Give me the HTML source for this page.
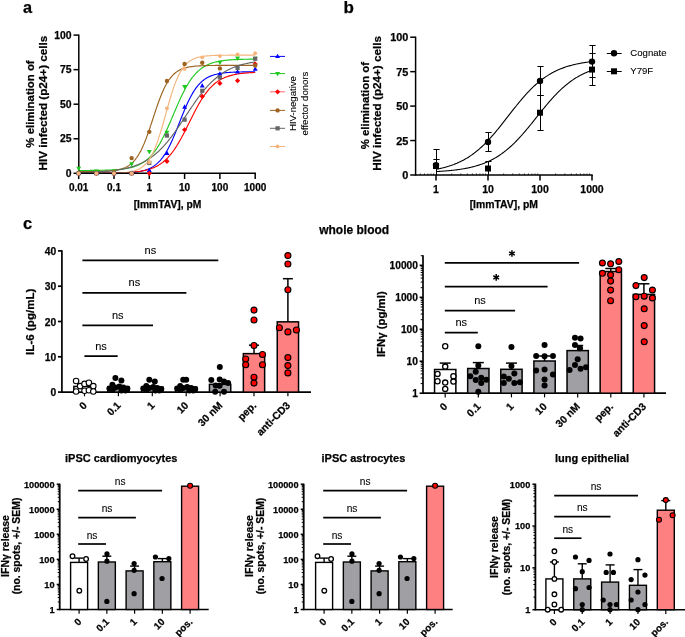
<!DOCTYPE html>
<html><head><meta charset="utf-8"><style>
html,body{margin:0;padding:0;background:#fff;}
svg{display:block;}
text{font-family:"Liberation Sans", sans-serif;}
</style></head><body>
<svg width="685" height="637" viewBox="0 0 685 637">
<rect width="685" height="637" fill="#fff"/>
<g opacity="0.999">
<text x="23.00" y="12.50" font-size="16.3" font-weight="bold" text-anchor="start" fill="#000" stroke="#000" stroke-width="0.25">a</text>
<path d="M78.70,173.30L79.58,173.30L80.47,173.30L81.35,173.30L82.23,173.30L83.11,173.30L84.00,173.30L84.88,173.30L85.76,173.30L86.64,173.30L87.53,173.30L88.41,173.29L89.29,173.29L90.17,173.29L91.06,173.29L91.94,173.29L92.82,173.29L93.70,173.29L94.59,173.28L95.47,173.28L96.35,173.28L97.23,173.28L98.12,173.28L99.00,173.27L99.88,173.27L100.76,173.27L101.65,173.26L102.53,173.26L103.41,173.26L104.29,173.25L105.18,173.25L106.06,173.24L106.94,173.23L107.82,173.23L108.71,173.22L109.59,173.21L110.47,173.20L111.35,173.19L112.24,173.18L113.12,173.17L114.00,173.16L114.88,173.15L115.77,173.13L116.65,173.12L117.53,173.10L118.41,173.08L119.30,173.06L120.18,173.04L121.06,173.01L121.94,172.99L122.83,172.96L123.71,172.92L124.59,172.89L125.47,172.85L126.36,172.81L127.24,172.76L128.12,172.71L129.00,172.66L129.89,172.60L130.77,172.54L131.65,172.46L132.53,172.39L133.42,172.30L134.30,172.21L135.18,172.11L136.06,172.00L136.95,171.89L137.83,171.76L138.71,171.62L139.59,171.46L140.48,171.30L141.36,171.11L142.24,170.92L143.12,170.70L144.01,170.47L144.89,170.22L145.77,169.94L146.65,169.64L147.53,169.31L148.42,168.96L149.30,168.58L150.18,168.17L151.06,167.72L151.95,167.23L152.83,166.71L153.71,166.14L154.59,165.53L155.48,164.87L156.36,164.16L157.24,163.40L158.12,162.58L159.01,161.71L159.89,160.77L160.77,159.77L161.66,158.70L162.54,157.56L163.42,156.35L164.30,155.06L165.19,153.70L166.07,152.27L166.95,150.76L167.83,149.17L168.72,147.51L169.60,145.77L170.48,143.96L171.36,142.09L172.25,140.14L173.13,138.14L174.01,136.09L174.89,133.98L175.78,131.83L176.66,129.65L177.54,127.44L178.42,125.21L179.31,122.97L180.19,120.73L181.07,118.49L181.95,116.28L182.84,114.08L183.72,111.92L184.60,109.79L185.48,107.72L186.37,105.69L187.25,103.73L188.13,101.82L189.01,99.99L189.90,98.22L190.78,96.53L191.66,94.91L192.54,93.37L193.43,91.91L194.31,90.52L195.19,89.20L196.07,87.96L196.96,86.80L197.84,85.70L198.72,84.67L199.60,83.70L200.49,82.80L201.37,81.96L202.25,81.18L203.13,80.45L204.01,79.77L204.90,79.14L205.78,78.56L206.66,78.02L207.55,77.52L208.43,77.05L209.31,76.63L210.19,76.23L211.07,75.87L211.96,75.53L212.84,75.22L213.72,74.94L214.61,74.67L215.49,74.43L216.37,74.21L217.25,74.01L218.13,73.82L219.02,73.65L219.90,73.49L220.78,73.34L221.67,73.21L222.55,73.09L223.43,72.97L224.31,72.87L225.20,72.78L226.08,72.69L226.96,72.61L227.84,72.54L228.73,72.47L229.61,72.41L230.49,72.35L231.37,72.30L232.25,72.25L233.14,72.21L234.02,72.17L234.90,72.13L235.79,72.10L236.67,72.07L237.55,72.04L238.43,72.02L239.31,71.99L240.20,71.97L241.08,71.95L241.96,71.93L242.85,71.92L243.73,71.90L244.61,71.89L245.49,71.88L246.38,71.86L247.26,71.85L248.14,71.84L249.02,71.83L249.90,71.83L250.79,71.82L251.67,71.81L252.55,71.81L253.44,71.80L254.32,71.80L255.20,71.79" stroke="#0000ff" stroke-width="1.15" fill="none"/>
<path d="M78.70,170.50L79.58,170.50L80.47,170.49L81.35,170.49L82.23,170.49L83.11,170.48L84.00,170.48L84.88,170.47L85.76,170.47L86.64,170.46L87.53,170.46L88.41,170.45L89.29,170.45L90.17,170.44L91.06,170.43L91.94,170.42L92.82,170.41L93.70,170.41L94.59,170.40L95.47,170.38L96.35,170.37L97.23,170.36L98.12,170.35L99.00,170.33L99.88,170.32L100.76,170.30L101.65,170.28L102.53,170.26L103.41,170.24L104.29,170.22L105.18,170.19L106.06,170.16L106.94,170.14L107.82,170.11L108.71,170.07L109.59,170.04L110.47,170.00L111.35,169.96L112.24,169.91L113.12,169.86L114.00,169.81L114.88,169.75L115.77,169.69L116.65,169.63L117.53,169.56L118.41,169.48L119.30,169.40L120.18,169.32L121.06,169.22L121.94,169.12L122.83,169.01L123.71,168.90L124.59,168.77L125.47,168.64L126.36,168.49L127.24,168.34L128.12,168.17L129.00,167.99L129.89,167.80L130.77,167.59L131.65,167.37L132.53,167.13L133.42,166.87L134.30,166.60L135.18,166.30L136.06,165.99L136.95,165.65L137.83,165.29L138.71,164.90L139.59,164.49L140.48,164.04L141.36,163.57L142.24,163.07L143.12,162.53L144.01,161.95L144.89,161.34L145.77,160.69L146.65,160.00L147.53,159.26L148.42,158.48L149.30,157.65L150.18,156.77L151.06,155.85L151.95,154.86L152.83,153.83L153.71,152.74L154.59,151.59L155.48,150.38L156.36,149.12L157.24,147.79L158.12,146.41L159.01,144.96L159.89,143.46L160.77,141.90L161.66,140.27L162.54,138.60L163.42,136.86L164.30,135.08L165.19,133.24L166.07,131.36L166.95,129.44L167.83,127.48L168.72,125.49L169.60,123.46L170.48,121.42L171.36,119.35L172.25,117.27L173.13,115.19L174.01,113.10L174.89,111.02L175.78,108.95L176.66,106.90L177.54,104.86L178.42,102.86L179.31,100.88L180.19,98.94L181.07,97.05L181.95,95.19L182.84,93.39L183.72,91.64L184.60,89.94L185.48,88.29L186.37,86.70L187.25,85.18L188.13,83.71L189.01,82.30L189.90,80.95L190.78,79.66L191.66,78.43L192.54,77.26L193.43,76.15L194.31,75.09L195.19,74.09L196.07,73.14L196.96,72.24L197.84,71.39L198.72,70.59L199.60,69.84L200.49,69.13L201.37,68.46L202.25,67.83L203.13,67.24L204.01,66.69L204.90,66.17L205.78,65.69L206.66,65.23L207.55,64.81L208.43,64.41L209.31,64.04L210.19,63.69L211.07,63.36L211.96,63.06L212.84,62.78L213.72,62.52L214.61,62.27L215.49,62.04L216.37,61.83L217.25,61.63L218.13,61.45L219.02,61.27L219.90,61.11L220.78,60.96L221.67,60.83L222.55,60.70L223.43,60.58L224.31,60.46L225.20,60.36L226.08,60.26L226.96,60.17L227.84,60.09L228.73,60.01L229.61,59.94L230.49,59.88L231.37,59.81L232.25,59.76L233.14,59.70L234.02,59.65L234.90,59.61L235.79,59.56L236.67,59.52L237.55,59.49L238.43,59.45L239.31,59.42L240.20,59.39L241.08,59.36L241.96,59.34L242.85,59.31L243.73,59.29L244.61,59.27L245.49,59.25L246.38,59.24L247.26,59.22L248.14,59.20L249.02,59.19L249.90,59.18L250.79,59.16L251.67,59.15L252.55,59.14L253.44,59.13L254.32,59.12L255.20,59.12" stroke="#1ec81e" stroke-width="1.15" fill="none"/>
<path d="M78.70,173.28L79.58,173.28L80.47,173.28L81.35,173.28L82.23,173.28L83.11,173.28L84.00,173.28L84.88,173.27L85.76,173.27L86.64,173.27L87.53,173.27L88.41,173.27L89.29,173.26L90.17,173.26L91.06,173.26L91.94,173.26L92.82,173.25L93.70,173.25L94.59,173.25L95.47,173.24L96.35,173.24L97.23,173.23L98.12,173.23L99.00,173.22L99.88,173.22L100.76,173.21L101.65,173.20L102.53,173.20L103.41,173.19L104.29,173.18L105.18,173.17L106.06,173.16L106.94,173.15L107.82,173.14L108.71,173.13L109.59,173.12L110.47,173.11L111.35,173.09L112.24,173.08L113.12,173.06L114.00,173.05L114.88,173.03L115.77,173.01L116.65,172.99L117.53,172.96L118.41,172.94L119.30,172.91L120.18,172.88L121.06,172.85L121.94,172.82L122.83,172.79L123.71,172.75L124.59,172.71L125.47,172.67L126.36,172.62L127.24,172.57L128.12,172.52L129.00,172.46L129.89,172.40L130.77,172.34L131.65,172.27L132.53,172.20L133.42,172.12L134.30,172.03L135.18,171.94L136.06,171.84L136.95,171.74L137.83,171.63L138.71,171.51L139.59,171.38L140.48,171.24L141.36,171.10L142.24,170.94L143.12,170.77L144.01,170.59L144.89,170.40L145.77,170.20L146.65,169.98L147.53,169.75L148.42,169.50L149.30,169.23L150.18,168.95L151.06,168.65L151.95,168.32L152.83,167.98L153.71,167.62L154.59,167.23L155.48,166.81L156.36,166.37L157.24,165.91L158.12,165.41L159.01,164.88L159.89,164.33L160.77,163.73L161.66,163.11L162.54,162.45L163.42,161.75L164.30,161.01L165.19,160.23L166.07,159.41L166.95,158.54L167.83,157.64L168.72,156.68L169.60,155.69L170.48,154.64L171.36,153.55L172.25,152.41L173.13,151.22L174.01,149.98L174.89,148.70L175.78,147.36L176.66,145.98L177.54,144.56L178.42,143.09L179.31,141.58L180.19,140.03L181.07,138.44L181.95,136.82L182.84,135.17L183.72,133.48L184.60,131.77L185.48,130.04L186.37,128.29L187.25,126.53L188.13,124.75L189.01,122.97L189.90,121.20L190.78,119.42L191.66,117.65L192.54,115.90L193.43,114.16L194.31,112.44L195.19,110.74L196.07,109.07L196.96,107.44L197.84,105.84L198.72,104.27L199.60,102.74L200.49,101.26L201.37,99.82L202.25,98.42L203.13,97.07L204.01,95.77L204.90,94.51L205.78,93.30L206.66,92.14L207.55,91.03L208.43,89.96L209.31,88.95L210.19,87.98L211.07,87.05L211.96,86.17L212.84,85.33L213.72,84.54L214.61,83.78L215.49,83.07L216.37,82.39L217.25,81.75L218.13,81.14L219.02,80.57L219.90,80.03L220.78,79.53L221.67,79.05L222.55,78.60L223.43,78.17L224.31,77.77L225.20,77.40L226.08,77.05L226.96,76.72L227.84,76.41L228.73,76.12L229.61,75.84L230.49,75.59L231.37,75.35L232.25,75.13L233.14,74.92L234.02,74.72L234.90,74.54L235.79,74.36L236.67,74.20L237.55,74.05L238.43,73.91L239.31,73.78L240.20,73.66L241.08,73.54L241.96,73.44L242.85,73.34L243.73,73.24L244.61,73.15L245.49,73.07L246.38,73.00L247.26,72.93L248.14,72.86L249.02,72.80L249.90,72.74L250.79,72.68L251.67,72.63L252.55,72.59L253.44,72.54L254.32,72.50L255.20,72.46" stroke="#ff0000" stroke-width="1.15" fill="none"/>
<path d="M78.70,171.64L79.58,171.64L80.47,171.64L81.35,171.63L82.23,171.63L83.11,171.63L84.00,171.62L84.88,171.62L85.76,171.62L86.64,171.61L87.53,171.61L88.41,171.60L89.29,171.59L90.17,171.59L91.06,171.58L91.94,171.57L92.82,171.56L93.70,171.55L94.59,171.54L95.47,171.52L96.35,171.51L97.23,171.49L98.12,171.47L99.00,171.45L99.88,171.43L100.76,171.40L101.65,171.38L102.53,171.35L103.41,171.31L104.29,171.28L105.18,171.24L106.06,171.19L106.94,171.14L107.82,171.08L108.71,171.02L109.59,170.95L110.47,170.88L111.35,170.80L112.24,170.70L113.12,170.60L114.00,170.49L114.88,170.37L115.77,170.23L116.65,170.08L117.53,169.91L118.41,169.73L119.30,169.53L120.18,169.30L121.06,169.06L121.94,168.79L122.83,168.49L123.71,168.16L124.59,167.80L125.47,167.40L126.36,166.96L127.24,166.48L128.12,165.96L129.00,165.38L129.89,164.75L130.77,164.07L131.65,163.32L132.53,162.50L133.42,161.61L134.30,160.65L135.18,159.60L136.06,158.47L136.95,157.25L137.83,155.93L138.71,154.52L139.59,153.00L140.48,151.39L141.36,149.66L142.24,147.83L143.12,145.90L144.01,143.86L144.89,141.72L145.77,139.49L146.65,137.16L147.53,134.75L148.42,132.26L149.30,129.70L150.18,127.09L151.06,124.44L151.95,121.75L152.83,119.05L153.71,116.35L154.59,113.66L155.48,110.99L156.36,108.36L157.24,105.78L158.12,103.27L159.01,100.82L159.89,98.46L160.77,96.19L161.66,94.01L162.54,91.93L163.42,89.95L164.30,88.08L165.19,86.32L166.07,84.66L166.95,83.10L167.83,81.65L168.72,80.29L169.60,79.04L170.48,77.87L171.36,76.79L172.25,75.79L173.13,74.87L174.01,74.03L174.89,73.25L175.78,72.54L176.66,71.89L177.54,71.29L178.42,70.75L179.31,70.25L180.19,69.80L181.07,69.39L181.95,69.01L182.84,68.67L183.72,68.36L184.60,68.08L185.48,67.82L186.37,67.59L187.25,67.38L188.13,67.18L189.01,67.01L189.90,66.85L190.78,66.71L191.66,66.58L192.54,66.47L193.43,66.36L194.31,66.27L195.19,66.18L196.07,66.10L196.96,66.03L197.84,65.97L198.72,65.91L199.60,65.86L200.49,65.81L201.37,65.77L202.25,65.73L203.13,65.69L204.01,65.66L204.90,65.63L205.78,65.61L206.66,65.58L207.55,65.56L208.43,65.54L209.31,65.53L210.19,65.51L211.07,65.50L211.96,65.48L212.84,65.47L213.72,65.46L214.61,65.45L215.49,65.44L216.37,65.44L217.25,65.43L218.13,65.42L219.02,65.42L219.90,65.41L220.78,65.41L221.67,65.40L222.55,65.40L223.43,65.40L224.31,65.39L225.20,65.39L226.08,65.39L226.96,65.39L227.84,65.38L228.73,65.38L229.61,65.38L230.49,65.38L231.37,65.38L232.25,65.38L233.14,65.38L234.02,65.38L234.90,65.37L235.79,65.37L236.67,65.37L237.55,65.37L238.43,65.37L239.31,65.37L240.20,65.37L241.08,65.37L241.96,65.37L242.85,65.37L243.73,65.37L244.61,65.37L245.49,65.37L246.38,65.37L247.26,65.37L248.14,65.37L249.02,65.37L249.90,65.37L250.79,65.37L251.67,65.37L252.55,65.37L253.44,65.37L254.32,65.37L255.20,65.37" stroke="#9c6420" stroke-width="1.15" fill="none"/>
<path d="M78.70,172.51L79.58,172.50L80.47,172.48L81.35,172.46L82.23,172.44L83.11,172.42L84.00,172.39L84.88,172.37L85.76,172.35L86.64,172.32L87.53,172.29L88.41,172.26L89.29,172.23L90.17,172.20L91.06,172.17L91.94,172.13L92.82,172.10L93.70,172.06L94.59,172.02L95.47,171.98L96.35,171.94L97.23,171.89L98.12,171.84L99.00,171.79L99.88,171.74L100.76,171.69L101.65,171.63L102.53,171.57L103.41,171.51L104.29,171.44L105.18,171.37L106.06,171.30L106.94,171.22L107.82,171.15L108.71,171.06L109.59,170.98L110.47,170.89L111.35,170.79L112.24,170.69L113.12,170.59L114.00,170.48L114.88,170.36L115.77,170.25L116.65,170.12L117.53,169.99L118.41,169.85L119.30,169.71L120.18,169.56L121.06,169.41L121.94,169.25L122.83,169.08L123.71,168.90L124.59,168.71L125.47,168.52L126.36,168.32L127.24,168.10L128.12,167.88L129.00,167.65L129.89,167.41L130.77,167.16L131.65,166.90L132.53,166.62L133.42,166.34L134.30,166.04L135.18,165.73L136.06,165.41L136.95,165.07L137.83,164.72L138.71,164.36L139.59,163.98L140.48,163.58L141.36,163.17L142.24,162.74L143.12,162.30L144.01,161.84L144.89,161.36L145.77,160.86L146.65,160.34L147.53,159.80L148.42,159.25L149.30,158.67L150.18,158.07L151.06,157.45L151.95,156.81L152.83,156.15L153.71,155.47L154.59,154.76L155.48,154.03L156.36,153.28L157.24,152.50L158.12,151.70L159.01,150.87L159.89,150.02L160.77,149.15L161.66,148.25L162.54,147.32L163.42,146.38L164.30,145.41L165.19,144.41L166.07,143.39L166.95,142.35L167.83,141.28L168.72,140.20L169.60,139.09L170.48,137.95L171.36,136.80L172.25,135.63L173.13,134.44L174.01,133.23L174.89,132.00L175.78,130.76L176.66,129.50L177.54,128.23L178.42,126.94L179.31,125.65L180.19,124.34L181.07,123.02L181.95,121.70L182.84,120.37L183.72,119.03L184.60,117.69L185.48,116.35L186.37,115.01L187.25,113.67L188.13,112.34L189.01,111.00L189.90,109.68L190.78,108.36L191.66,107.05L192.54,105.75L193.43,104.45L194.31,103.18L195.19,101.91L196.07,100.66L196.96,99.43L197.84,98.21L198.72,97.01L199.60,95.83L200.49,94.67L201.37,93.53L202.25,92.42L203.13,91.32L204.01,90.24L204.90,89.19L205.78,88.16L206.66,87.16L207.55,86.18L208.43,85.22L209.31,84.29L210.19,83.38L211.07,82.50L211.96,81.64L212.84,80.80L213.72,79.99L214.61,79.20L215.49,78.44L216.37,77.70L217.25,76.98L218.13,76.29L219.02,75.62L219.90,74.97L220.78,74.34L221.67,73.74L222.55,73.15L223.43,72.59L224.31,72.04L225.20,71.52L226.08,71.01L226.96,70.52L227.84,70.06L228.73,69.60L229.61,69.17L230.49,68.75L231.37,68.35L232.25,67.96L233.14,67.59L234.02,67.24L234.90,66.89L235.79,66.57L236.67,66.25L237.55,65.95L238.43,65.66L239.31,65.38L240.20,65.11L241.08,64.86L241.96,64.61L242.85,64.38L243.73,64.15L244.61,63.94L245.49,63.73L246.38,63.54L247.26,63.35L248.14,63.17L249.02,62.99L249.90,62.83L250.79,62.67L251.67,62.52L252.55,62.37L253.44,62.23L254.32,62.10L255.20,61.97" stroke="#666666" stroke-width="1.15" fill="none"/>
<path d="M78.70,173.30L79.58,173.30L80.47,173.30L81.35,173.30L82.23,173.30L83.11,173.30L84.00,173.29L84.88,173.29L85.76,173.29L86.64,173.29L87.53,173.29L88.41,173.29L89.29,173.29L90.17,173.29L91.06,173.29L91.94,173.29L92.82,173.28L93.70,173.28L94.59,173.28L95.47,173.28L96.35,173.28L97.23,173.27L98.12,173.27L99.00,173.27L99.88,173.26L100.76,173.26L101.65,173.25L102.53,173.25L103.41,173.24L104.29,173.24L105.18,173.23L106.06,173.22L106.94,173.21L107.82,173.20L108.71,173.19L109.59,173.18L110.47,173.16L111.35,173.15L112.24,173.13L113.12,173.11L114.00,173.09L114.88,173.06L115.77,173.04L116.65,173.01L117.53,172.97L118.41,172.94L119.30,172.90L120.18,172.85L121.06,172.80L121.94,172.74L122.83,172.68L123.71,172.61L124.59,172.53L125.47,172.45L126.36,172.35L127.24,172.24L128.12,172.12L129.00,171.99L129.89,171.84L130.77,171.68L131.65,171.50L132.53,171.29L133.42,171.07L134.30,170.82L135.18,170.54L136.06,170.24L136.95,169.90L137.83,169.52L138.71,169.11L139.59,168.65L140.48,168.14L141.36,167.58L142.24,166.97L143.12,166.29L144.01,165.54L144.89,164.72L145.77,163.82L146.65,162.84L147.53,161.76L148.42,160.59L149.30,159.31L150.18,157.92L151.06,156.42L151.95,154.80L152.83,153.05L153.71,151.17L154.59,149.17L155.48,147.03L156.36,144.76L157.24,142.35L158.12,139.83L159.01,137.18L159.89,134.42L160.77,131.55L161.66,128.59L162.54,125.56L163.42,122.46L164.30,119.31L165.19,116.13L166.07,112.94L166.95,109.76L167.83,106.61L168.72,103.50L169.60,100.45L170.48,97.47L171.36,94.59L172.25,91.80L173.13,89.13L174.01,86.58L174.89,84.15L175.78,81.86L176.66,79.69L177.54,77.66L178.42,75.76L179.31,73.98L180.19,72.33L181.07,70.81L181.95,69.40L182.84,68.10L183.72,66.91L184.60,65.81L185.48,64.81L186.37,63.89L187.25,63.06L188.13,62.30L189.01,61.60L189.90,60.97L190.78,60.40L191.66,59.89L192.54,59.42L193.43,59.00L194.31,58.61L195.19,58.27L196.07,57.95L196.96,57.67L197.84,57.42L198.72,57.19L199.60,56.98L200.49,56.80L201.37,56.63L202.25,56.48L203.13,56.34L204.01,56.22L204.90,56.11L205.78,56.01L206.66,55.92L207.55,55.84L208.43,55.77L209.31,55.71L210.19,55.65L211.07,55.60L211.96,55.55L212.84,55.51L213.72,55.47L214.61,55.44L215.49,55.41L216.37,55.38L217.25,55.35L218.13,55.33L219.02,55.31L219.90,55.30L220.78,55.28L221.67,55.26L222.55,55.25L223.43,55.24L224.31,55.23L225.20,55.22L226.08,55.21L226.96,55.20L227.84,55.20L228.73,55.19L229.61,55.19L230.49,55.18L231.37,55.18L232.25,55.17L233.14,55.17L234.02,55.17L234.90,55.16L235.79,55.16L236.67,55.16L237.55,55.16L238.43,55.16L239.31,55.15L240.20,55.15L241.08,55.15L241.96,55.15L242.85,55.15L243.73,55.15L244.61,55.15L245.49,55.15L246.38,55.15L247.26,55.14L248.14,55.14L249.02,55.14L249.90,55.14L250.79,55.14L251.67,55.14L252.55,55.14L253.44,55.14L254.32,55.14L255.20,55.14" stroke="#f5b47c" stroke-width="1.15" fill="none"/>
<line x1="78.80" y1="34.50" x2="78.80" y2="174.05" stroke="#000" stroke-width="1.5"/>
<line x1="73.50" y1="173.30" x2="78.80" y2="173.30" stroke="#000" stroke-width="1.5"/>
<text x="71.50" y="177.00" font-size="10.4" font-weight="bold" text-anchor="end" fill="#000" stroke="#000" stroke-width="0.25">0</text>
<line x1="73.50" y1="138.75" x2="78.80" y2="138.75" stroke="#000" stroke-width="1.5"/>
<text x="71.50" y="142.45" font-size="10.4" font-weight="bold" text-anchor="end" fill="#000" stroke="#000" stroke-width="0.25">25</text>
<line x1="73.50" y1="104.20" x2="78.80" y2="104.20" stroke="#000" stroke-width="1.5"/>
<text x="71.50" y="107.90" font-size="10.4" font-weight="bold" text-anchor="end" fill="#000" stroke="#000" stroke-width="0.25">50</text>
<line x1="73.50" y1="69.65" x2="78.80" y2="69.65" stroke="#000" stroke-width="1.5"/>
<text x="71.50" y="73.35" font-size="10.4" font-weight="bold" text-anchor="end" fill="#000" stroke="#000" stroke-width="0.25">75</text>
<line x1="73.50" y1="35.10" x2="78.80" y2="35.10" stroke="#000" stroke-width="1.5"/>
<text x="71.50" y="38.80" font-size="10.4" font-weight="bold" text-anchor="end" fill="#000" stroke="#000" stroke-width="0.25">100</text>
<line x1="78.80" y1="173.30" x2="255.95" y2="173.30" stroke="#000" stroke-width="1.5"/>
<line x1="78.70" y1="173.30" x2="78.70" y2="179.00" stroke="#000" stroke-width="1.5"/>
<text x="78.70" y="191.20" font-size="10" font-weight="bold" text-anchor="middle" fill="#000" stroke="#000" stroke-width="0.25">0.01</text>
<line x1="114.00" y1="173.30" x2="114.00" y2="179.00" stroke="#000" stroke-width="1.5"/>
<text x="114.00" y="191.20" font-size="10" font-weight="bold" text-anchor="middle" fill="#000" stroke="#000" stroke-width="0.25">0.1</text>
<line x1="149.30" y1="173.30" x2="149.30" y2="179.00" stroke="#000" stroke-width="1.5"/>
<text x="149.30" y="191.20" font-size="10" font-weight="bold" text-anchor="middle" fill="#000" stroke="#000" stroke-width="0.25">1</text>
<line x1="184.60" y1="173.30" x2="184.60" y2="179.00" stroke="#000" stroke-width="1.5"/>
<text x="184.60" y="191.20" font-size="10" font-weight="bold" text-anchor="middle" fill="#000" stroke="#000" stroke-width="0.25">10</text>
<line x1="219.90" y1="173.30" x2="219.90" y2="179.00" stroke="#000" stroke-width="1.5"/>
<text x="219.90" y="191.20" font-size="10" font-weight="bold" text-anchor="middle" fill="#000" stroke="#000" stroke-width="0.25">100</text>
<line x1="255.20" y1="173.30" x2="255.20" y2="179.00" stroke="#000" stroke-width="1.5"/>
<text x="255.20" y="191.20" font-size="10" font-weight="bold" text-anchor="middle" fill="#000" stroke="#000" stroke-width="0.25">1000</text>
<text x="167.50" y="208.00" font-size="10.3" font-weight="bold" text-anchor="middle" fill="#000" stroke="#000" stroke-width="0.25">[ImmTAV], pM</text>
<text x="33.90" y="104.00" font-size="11.4" font-weight="bold" text-anchor="middle" fill="#000" stroke="#000" stroke-width="0.25" transform="rotate(-90 33.9 104.0)">% elimination of</text>
<text x="46.90" y="103.10" font-size="11.7" font-weight="bold" text-anchor="middle" fill="#000" stroke="#000" stroke-width="0.25" transform="rotate(-90 46.9 103.1)">HIV infected (p24+) cells</text>
<polygon points="78.70,170.57 81.15,174.97 76.25,174.97" fill="#0000ff" stroke="none" stroke-width="0"/>
<polygon points="96.35,170.57 98.80,174.97 93.90,174.97" fill="#0000ff" stroke="none" stroke-width="0"/>
<polygon points="114.00,170.57 116.45,174.97 111.55,174.97" fill="#0000ff" stroke="none" stroke-width="0"/>
<polygon points="131.65,170.57 134.10,174.97 129.20,174.97" fill="#0000ff" stroke="none" stroke-width="0"/>
<polygon points="149.30,167.53 151.75,171.93 146.85,171.93" fill="#0000ff" stroke="none" stroke-width="0"/>
<polygon points="166.95,150.53 169.40,154.93 164.50,154.93" fill="#0000ff" stroke="none" stroke-width="0"/>
<polygon points="184.60,104.24 187.05,108.64 182.15,108.64" fill="#0000ff" stroke="none" stroke-width="0"/>
<polygon points="202.25,83.09 204.70,87.49 199.80,87.49" fill="#0000ff" stroke="none" stroke-width="0"/>
<polygon points="219.90,71.21 222.35,75.61 217.45,75.61" fill="#0000ff" stroke="none" stroke-width="0"/>
<polygon points="237.55,69.13 240.00,73.53 235.10,73.53" fill="#0000ff" stroke="none" stroke-width="0"/>
<polygon points="255.20,66.23 257.65,70.63 252.75,70.63" fill="#0000ff" stroke="none" stroke-width="0"/>
<polygon points="78.70,171.19 81.15,166.79 76.25,166.79" fill="#1ec81e" stroke="none" stroke-width="0"/>
<polygon points="96.35,173.96 98.80,169.56 93.90,169.56" fill="#1ec81e" stroke="none" stroke-width="0"/>
<polygon points="114.00,173.96 116.45,169.56 111.55,169.56" fill="#1ec81e" stroke="none" stroke-width="0"/>
<polygon points="131.65,166.63 134.10,162.23 129.20,162.23" fill="#1ec81e" stroke="none" stroke-width="0"/>
<polygon points="149.30,154.47 151.75,150.07 146.85,150.07" fill="#1ec81e" stroke="none" stroke-width="0"/>
<polygon points="166.95,135.12 169.40,130.72 164.50,130.72" fill="#1ec81e" stroke="none" stroke-width="0"/>
<polygon points="184.60,89.51 187.05,85.11 182.15,85.11" fill="#1ec81e" stroke="none" stroke-width="0"/>
<polygon points="219.90,65.05 222.35,60.65 217.45,60.65" fill="#1ec81e" stroke="none" stroke-width="0"/>
<polygon points="237.55,60.91 240.00,56.51 235.10,56.51" fill="#1ec81e" stroke="none" stroke-width="0"/>
<polygon points="255.20,61.18 257.65,56.78 252.75,56.78" fill="#1ec81e" stroke="none" stroke-width="0"/>
<polygon points="78.70,170.70 81.30,173.30 78.70,175.90 76.10,173.30" fill="#ff0000" stroke="none" stroke-width="0"/>
<polygon points="96.35,170.70 98.95,173.30 96.35,175.90 93.75,173.30" fill="#ff0000" stroke="none" stroke-width="0"/>
<polygon points="114.00,170.70 116.60,173.30 114.00,175.90 111.40,173.30" fill="#ff0000" stroke="none" stroke-width="0"/>
<polygon points="131.65,170.70 134.25,173.30 131.65,175.90 129.05,173.30" fill="#ff0000" stroke="none" stroke-width="0"/>
<polygon points="149.30,170.70 151.90,173.30 149.30,175.90 146.70,173.30" fill="#ff0000" stroke="none" stroke-width="0"/>
<polygon points="166.95,158.68 169.55,161.28 166.95,163.88 164.35,161.28" fill="#ff0000" stroke="none" stroke-width="0"/>
<polygon points="184.60,127.17 187.20,129.77 184.60,132.37 182.00,129.77" fill="#ff0000" stroke="none" stroke-width="0"/>
<polygon points="202.25,93.86 204.85,96.46 202.25,99.06 199.65,96.46" fill="#ff0000" stroke="none" stroke-width="0"/>
<polygon points="219.90,80.73 222.50,83.33 219.90,85.93 217.30,83.33" fill="#ff0000" stroke="none" stroke-width="0"/>
<polygon points="237.55,78.11 240.15,80.71 237.55,83.31 234.95,80.71" fill="#ff0000" stroke="none" stroke-width="0"/>
<polygon points="255.20,61.38 257.80,63.98 255.20,66.58 252.60,63.98" fill="#ff0000" stroke="none" stroke-width="0"/>
<circle cx="78.70" cy="172.61" r="2.20" fill="#9c6420" stroke="none" stroke-width="1.0"/>
<circle cx="96.35" cy="172.61" r="2.20" fill="#9c6420" stroke="none" stroke-width="1.0"/>
<circle cx="114.00" cy="171.92" r="2.20" fill="#9c6420" stroke="none" stroke-width="1.0"/>
<circle cx="131.65" cy="158.10" r="2.20" fill="#9c6420" stroke="none" stroke-width="1.0"/>
<circle cx="149.30" cy="131.84" r="2.20" fill="#9c6420" stroke="none" stroke-width="1.0"/>
<circle cx="166.95" cy="80.98" r="2.20" fill="#9c6420" stroke="none" stroke-width="1.0"/>
<circle cx="184.60" cy="63.98" r="2.20" fill="#9c6420" stroke="none" stroke-width="1.0"/>
<circle cx="202.25" cy="62.74" r="2.20" fill="#9c6420" stroke="none" stroke-width="1.0"/>
<circle cx="219.90" cy="68.41" r="2.20" fill="#9c6420" stroke="none" stroke-width="1.0"/>
<circle cx="255.20" cy="65.50" r="2.20" fill="#9c6420" stroke="none" stroke-width="1.0"/>
<rect x="76.60" y="171.20" width="4.20" height="4.20" fill="#666666"/>
<rect x="94.25" y="171.20" width="4.20" height="4.20" fill="#666666"/>
<rect x="111.90" y="171.20" width="4.20" height="4.20" fill="#666666"/>
<rect x="129.55" y="171.20" width="4.20" height="4.20" fill="#666666"/>
<rect x="147.20" y="160.84" width="4.20" height="4.20" fill="#666666"/>
<rect x="164.85" y="133.47" width="4.20" height="4.20" fill="#666666"/>
<rect x="182.50" y="117.58" width="4.20" height="4.20" fill="#666666"/>
<rect x="200.15" y="88.69" width="4.20" height="4.20" fill="#666666"/>
<rect x="217.80" y="75.43" width="4.20" height="4.20" fill="#666666"/>
<rect x="235.45" y="65.89" width="4.20" height="4.20" fill="#666666"/>
<rect x="253.10" y="56.63" width="4.20" height="4.20" fill="#666666"/>
<circle cx="78.70" cy="173.30" r="1.90" fill="#f5b47c" stroke="none" stroke-width="1.0"/>
<circle cx="96.35" cy="173.30" r="1.90" fill="#f5b47c" stroke="none" stroke-width="1.0"/>
<circle cx="114.00" cy="173.30" r="1.90" fill="#f5b47c" stroke="none" stroke-width="1.0"/>
<circle cx="131.65" cy="173.30" r="1.90" fill="#f5b47c" stroke="none" stroke-width="1.0"/>
<circle cx="149.30" cy="162.24" r="1.90" fill="#f5b47c" stroke="none" stroke-width="1.0"/>
<circle cx="166.95" cy="108.35" r="1.90" fill="#f5b47c" stroke="none" stroke-width="1.0"/>
<circle cx="184.60" cy="68.96" r="1.90" fill="#f5b47c" stroke="none" stroke-width="1.0"/>
<circle cx="202.25" cy="57.35" r="1.90" fill="#f5b47c" stroke="none" stroke-width="1.0"/>
<circle cx="219.90" cy="56.11" r="1.90" fill="#f5b47c" stroke="none" stroke-width="1.0"/>
<circle cx="237.55" cy="54.45" r="1.90" fill="#f5b47c" stroke="none" stroke-width="1.0"/>
<circle cx="255.20" cy="53.20" r="1.90" fill="#f5b47c" stroke="none" stroke-width="1.0"/>
<line x1="270.00" y1="56.40" x2="285.00" y2="56.40" stroke="#0000ff" stroke-width="1.0"/>
<polygon points="277.60,53.67 280.05,58.07 275.15,58.07" fill="#0000ff" stroke="none" stroke-width="0"/>
<line x1="270.00" y1="73.60" x2="285.00" y2="73.60" stroke="#1ec81e" stroke-width="1.0"/>
<polygon points="277.60,76.33 280.05,71.93 275.15,71.93" fill="#1ec81e" stroke="none" stroke-width="0"/>
<line x1="270.00" y1="91.80" x2="285.00" y2="91.80" stroke="#ff6a6a" stroke-width="1.0"/>
<polygon points="277.60,89.20 280.20,91.80 277.60,94.40 275.00,91.80" fill="#ff0000" stroke="none" stroke-width="0"/>
<line x1="270.00" y1="110.40" x2="285.00" y2="110.40" stroke="#9c6420" stroke-width="1.0"/>
<circle cx="277.60" cy="110.40" r="2.20" fill="#9c6420" stroke="none" stroke-width="1.0"/>
<line x1="270.00" y1="128.30" x2="285.00" y2="128.30" stroke="#666666" stroke-width="1.0"/>
<rect x="275.50" y="126.20" width="4.20" height="4.20" fill="#666666"/>
<line x1="270.00" y1="146.50" x2="285.00" y2="146.50" stroke="#f5b47c" stroke-width="1.0"/>
<circle cx="277.60" cy="146.50" r="1.90" fill="#f5b47c" stroke="none" stroke-width="1.0"/>
<text x="295.80" y="103.50" font-size="9.6" font-weight="normal" text-anchor="middle" fill="#000" stroke="#000" stroke-width="0.1" transform="rotate(-90 295.8 103.5)">HIV-negative</text>
<text x="308.20" y="103.50" font-size="9.6" font-weight="normal" text-anchor="middle" fill="#000" stroke="#000" stroke-width="0.1" transform="rotate(-90 308.2 103.5)">effector donors</text>
<text x="343.60" y="12.50" font-size="17" font-weight="bold" text-anchor="start" fill="#000" stroke="#000" stroke-width="0.25">b</text>
<line x1="415.60" y1="36.60" x2="415.60" y2="175.75" stroke="#000" stroke-width="1.5"/>
<line x1="410.20" y1="175.00" x2="415.60" y2="175.00" stroke="#000" stroke-width="1.5"/>
<text x="408.40" y="179.20" font-size="10.9" font-weight="bold" text-anchor="end" fill="#000" stroke="#000" stroke-width="0.25">0</text>
<line x1="410.20" y1="140.55" x2="415.60" y2="140.55" stroke="#000" stroke-width="1.5"/>
<text x="408.40" y="144.75" font-size="10.9" font-weight="bold" text-anchor="end" fill="#000" stroke="#000" stroke-width="0.25">25</text>
<line x1="410.20" y1="106.10" x2="415.60" y2="106.10" stroke="#000" stroke-width="1.5"/>
<text x="408.40" y="110.30" font-size="10.9" font-weight="bold" text-anchor="end" fill="#000" stroke="#000" stroke-width="0.25">50</text>
<line x1="410.20" y1="71.65" x2="415.60" y2="71.65" stroke="#000" stroke-width="1.5"/>
<text x="408.40" y="75.85" font-size="10.9" font-weight="bold" text-anchor="end" fill="#000" stroke="#000" stroke-width="0.25">75</text>
<line x1="410.20" y1="37.20" x2="415.60" y2="37.20" stroke="#000" stroke-width="1.5"/>
<text x="408.40" y="41.40" font-size="10.9" font-weight="bold" text-anchor="end" fill="#000" stroke="#000" stroke-width="0.25">100</text>
<line x1="415.60" y1="175.00" x2="592.75" y2="175.00" stroke="#000" stroke-width="1.5"/>
<line x1="436.00" y1="175.00" x2="436.00" y2="180.40" stroke="#000" stroke-width="1.5"/>
<text x="436.00" y="193.30" font-size="10.5" font-weight="bold" text-anchor="middle" fill="#000" stroke="#000" stroke-width="0.25">1</text>
<line x1="488.00" y1="175.00" x2="488.00" y2="180.40" stroke="#000" stroke-width="1.5"/>
<text x="488.00" y="193.30" font-size="10.5" font-weight="bold" text-anchor="middle" fill="#000" stroke="#000" stroke-width="0.25">10</text>
<line x1="540.00" y1="175.00" x2="540.00" y2="180.40" stroke="#000" stroke-width="1.5"/>
<text x="540.00" y="193.30" font-size="10.5" font-weight="bold" text-anchor="middle" fill="#000" stroke="#000" stroke-width="0.25">100</text>
<line x1="592.00" y1="175.00" x2="592.00" y2="180.40" stroke="#000" stroke-width="1.5"/>
<text x="592.00" y="193.30" font-size="10.5" font-weight="bold" text-anchor="middle" fill="#000" stroke="#000" stroke-width="0.25">1000</text>
<line x1="420.35" y1="175.00" x2="420.35" y2="173.40" stroke="#000" stroke-width="0.7"/>
<line x1="424.46" y1="175.00" x2="424.46" y2="173.40" stroke="#000" stroke-width="0.7"/>
<line x1="427.95" y1="175.00" x2="427.95" y2="173.40" stroke="#000" stroke-width="0.7"/>
<line x1="430.96" y1="175.00" x2="430.96" y2="173.40" stroke="#000" stroke-width="0.7"/>
<line x1="433.62" y1="175.00" x2="433.62" y2="173.40" stroke="#000" stroke-width="0.7"/>
<line x1="451.65" y1="175.00" x2="451.65" y2="173.40" stroke="#000" stroke-width="0.7"/>
<line x1="460.81" y1="175.00" x2="460.81" y2="173.40" stroke="#000" stroke-width="0.7"/>
<line x1="467.31" y1="175.00" x2="467.31" y2="173.40" stroke="#000" stroke-width="0.7"/>
<line x1="472.35" y1="175.00" x2="472.35" y2="173.40" stroke="#000" stroke-width="0.7"/>
<line x1="476.46" y1="175.00" x2="476.46" y2="173.40" stroke="#000" stroke-width="0.7"/>
<line x1="479.95" y1="175.00" x2="479.95" y2="173.40" stroke="#000" stroke-width="0.7"/>
<line x1="482.96" y1="175.00" x2="482.96" y2="173.40" stroke="#000" stroke-width="0.7"/>
<line x1="485.62" y1="175.00" x2="485.62" y2="173.40" stroke="#000" stroke-width="0.7"/>
<line x1="503.65" y1="175.00" x2="503.65" y2="173.40" stroke="#000" stroke-width="0.7"/>
<line x1="512.81" y1="175.00" x2="512.81" y2="173.40" stroke="#000" stroke-width="0.7"/>
<line x1="519.31" y1="175.00" x2="519.31" y2="173.40" stroke="#000" stroke-width="0.7"/>
<line x1="524.35" y1="175.00" x2="524.35" y2="173.40" stroke="#000" stroke-width="0.7"/>
<line x1="528.46" y1="175.00" x2="528.46" y2="173.40" stroke="#000" stroke-width="0.7"/>
<line x1="531.95" y1="175.00" x2="531.95" y2="173.40" stroke="#000" stroke-width="0.7"/>
<line x1="534.96" y1="175.00" x2="534.96" y2="173.40" stroke="#000" stroke-width="0.7"/>
<line x1="537.62" y1="175.00" x2="537.62" y2="173.40" stroke="#000" stroke-width="0.7"/>
<line x1="555.65" y1="175.00" x2="555.65" y2="173.40" stroke="#000" stroke-width="0.7"/>
<line x1="564.81" y1="175.00" x2="564.81" y2="173.40" stroke="#000" stroke-width="0.7"/>
<line x1="571.31" y1="175.00" x2="571.31" y2="173.40" stroke="#000" stroke-width="0.7"/>
<line x1="576.35" y1="175.00" x2="576.35" y2="173.40" stroke="#000" stroke-width="0.7"/>
<line x1="580.46" y1="175.00" x2="580.46" y2="173.40" stroke="#000" stroke-width="0.7"/>
<line x1="583.95" y1="175.00" x2="583.95" y2="173.40" stroke="#000" stroke-width="0.7"/>
<line x1="586.96" y1="175.00" x2="586.96" y2="173.40" stroke="#000" stroke-width="0.7"/>
<line x1="589.62" y1="175.00" x2="589.62" y2="173.40" stroke="#000" stroke-width="0.7"/>
<text x="503.80" y="208.30" font-size="10.4" font-weight="bold" text-anchor="middle" fill="#000" stroke="#000" stroke-width="0.25">[ImmTAV], pM</text>
<text x="369.10" y="105.60" font-size="11.4" font-weight="bold" text-anchor="middle" fill="#000" stroke="#000" stroke-width="0.25" transform="rotate(-90 369.1 105.6)">% elimination of</text>
<text x="381.50" y="103.40" font-size="11.7" font-weight="bold" text-anchor="middle" fill="#000" stroke="#000" stroke-width="0.25" transform="rotate(-90 381.5 103.4)">HIV infected (p24+) cells</text>
<path d="M436.00,169.36L436.78,169.21L437.56,169.06L438.34,168.90L439.12,168.73L439.90,168.56L440.68,168.39L441.46,168.21L442.24,168.03L443.02,167.83L443.80,167.64L444.58,167.43L445.36,167.22L446.14,167.00L446.92,166.78L447.70,166.55L448.48,166.31L449.26,166.07L450.04,165.81L450.82,165.55L451.60,165.28L452.38,165.01L453.16,164.72L453.94,164.43L454.72,164.12L455.50,163.81L456.28,163.49L457.06,163.16L457.84,162.82L458.62,162.47L459.40,162.11L460.18,161.74L460.96,161.36L461.74,160.97L462.52,160.57L463.30,160.15L464.08,159.73L464.86,159.29L465.64,158.85L466.42,158.39L467.20,157.92L467.98,157.43L468.76,156.94L469.54,156.43L470.32,155.91L471.10,155.38L471.88,154.83L472.66,154.27L473.44,153.70L474.22,153.11L475.00,152.51L475.78,151.90L476.56,151.28L477.34,150.64L478.12,149.98L478.90,149.32L479.68,148.64L480.46,147.94L481.24,147.24L482.02,146.52L482.80,145.78L483.58,145.03L484.36,144.27L485.14,143.50L485.92,142.71L486.70,141.91L487.48,141.10L488.26,140.28L489.04,139.44L489.82,138.59L490.60,137.73L491.38,136.86L492.16,135.98L492.94,135.08L493.72,134.18L494.50,133.27L495.28,132.35L496.06,131.41L496.84,130.47L497.62,129.52L498.40,128.57L499.18,127.60L499.96,126.63L500.74,125.66L501.52,124.67L502.30,123.69L503.08,122.70L503.86,121.70L504.64,120.70L505.42,119.70L506.20,118.70L506.98,117.69L507.76,116.69L508.54,115.68L509.32,114.68L510.10,113.67L510.88,112.67L511.66,111.67L512.44,110.67L513.22,109.68L514.00,108.69L514.78,107.70L515.56,106.72L516.34,105.75L517.12,104.78L517.90,103.82L518.68,102.86L519.46,101.92L520.24,100.98L521.02,100.05L521.80,99.13L522.58,98.22L523.36,97.32L524.14,96.43L524.92,95.55L525.70,94.68L526.48,93.83L527.26,92.98L528.04,92.15L528.82,91.33L529.60,90.52L530.38,89.73L531.16,88.95L531.94,88.18L532.72,87.42L533.50,86.68L534.28,85.95L535.06,85.23L535.84,84.53L536.62,83.84L537.40,83.16L538.18,82.50L538.96,81.85L539.74,81.22L540.52,80.60L541.30,79.99L542.08,79.40L542.86,78.81L543.64,78.25L544.42,77.69L545.20,77.15L545.98,76.62L546.76,76.10L547.54,75.60L548.32,75.11L549.10,74.63L549.88,74.16L550.66,73.71L551.44,73.26L552.22,72.83L553.00,72.41L553.78,72.00L554.56,71.60L555.34,71.22L556.12,70.84L556.90,70.47L557.68,70.12L558.46,69.77L559.24,69.43L560.02,69.11L560.80,68.79L561.58,68.48L562.36,68.18L563.14,67.89L563.92,67.61L564.70,67.33L565.48,67.07L566.26,66.81L567.04,66.56L567.82,66.31L568.60,66.08L569.38,65.85L570.16,65.63L570.94,65.41L571.72,65.20L572.50,65.00L573.28,64.81L574.06,64.62L574.84,64.43L575.62,64.26L576.40,64.08L577.18,63.92L577.96,63.75L578.74,63.60L579.52,63.45L580.30,63.30L581.08,63.16L581.86,63.02L582.64,62.89L583.42,62.76L584.20,62.63L584.98,62.51L585.76,62.40L586.54,62.28L587.32,62.17L588.10,62.07L588.88,61.97L589.66,61.87L590.44,61.77L591.22,61.68L592.00,61.59" stroke="#000" stroke-width="1.1" fill="none"/>
<line x1="436.50" y1="149.50" x2="436.50" y2="175.00" stroke="#000" stroke-width="1.0"/>
<line x1="433.40" y1="149.50" x2="439.60" y2="149.50" stroke="#000" stroke-width="1.0"/>
<circle cx="436.00" cy="165.08" r="3.20" fill="#000" stroke="none" stroke-width="1.0"/>
<line x1="488.50" y1="132.50" x2="488.50" y2="151.57" stroke="#000" stroke-width="1.0"/>
<line x1="485.40" y1="132.50" x2="491.60" y2="132.50" stroke="#000" stroke-width="1.0"/>
<line x1="485.40" y1="151.50" x2="491.60" y2="151.50" stroke="#000" stroke-width="1.0"/>
<circle cx="488.00" cy="141.93" r="3.20" fill="#000" stroke="none" stroke-width="1.0"/>
<line x1="540.50" y1="66.50" x2="540.50" y2="95.49" stroke="#000" stroke-width="1.0"/>
<line x1="537.40" y1="66.50" x2="543.60" y2="66.50" stroke="#000" stroke-width="1.0"/>
<line x1="537.40" y1="95.50" x2="543.60" y2="95.50" stroke="#000" stroke-width="1.0"/>
<circle cx="540.00" cy="81.02" r="3.20" fill="#000" stroke="none" stroke-width="1.0"/>
<line x1="592.50" y1="45.50" x2="592.50" y2="77.71" stroke="#000" stroke-width="1.0"/>
<line x1="589.40" y1="45.50" x2="595.60" y2="45.50" stroke="#000" stroke-width="1.0"/>
<line x1="589.40" y1="77.50" x2="595.60" y2="77.50" stroke="#000" stroke-width="1.0"/>
<circle cx="592.00" cy="61.59" r="3.20" fill="#000" stroke="none" stroke-width="1.0"/>
<path d="M436.00,171.55L436.78,171.51L437.56,171.47L438.34,171.43L439.12,171.38L439.90,171.33L440.68,171.28L441.46,171.23L442.24,171.18L443.02,171.13L443.80,171.07L444.58,171.01L445.36,170.95L446.14,170.89L446.92,170.82L447.70,170.76L448.48,170.69L449.26,170.62L450.04,170.54L450.82,170.47L451.60,170.39L452.38,170.31L453.16,170.22L453.94,170.14L454.72,170.04L455.50,169.95L456.28,169.85L457.06,169.75L457.84,169.65L458.62,169.54L459.40,169.43L460.18,169.32L460.96,169.20L461.74,169.08L462.52,168.95L463.30,168.82L464.08,168.69L464.86,168.55L465.64,168.41L466.42,168.26L467.20,168.10L467.98,167.95L468.76,167.78L469.54,167.61L470.32,167.44L471.10,167.26L471.88,167.07L472.66,166.88L473.44,166.68L474.22,166.48L475.00,166.27L475.78,166.05L476.56,165.82L477.34,165.59L478.12,165.35L478.90,165.11L479.68,164.85L480.46,164.59L481.24,164.32L482.02,164.05L482.80,163.76L483.58,163.46L484.36,163.16L485.14,162.85L485.92,162.53L486.70,162.19L487.48,161.85L488.26,161.50L489.04,161.14L489.82,160.77L490.60,160.39L491.38,160.00L492.16,159.60L492.94,159.18L493.72,158.76L494.50,158.32L495.28,157.87L496.06,157.41L496.84,156.94L497.62,156.46L498.40,155.96L499.18,155.45L499.96,154.93L500.74,154.40L501.52,153.86L502.30,153.30L503.08,152.72L503.86,152.14L504.64,151.54L505.42,150.93L506.20,150.31L506.98,149.67L507.76,149.02L508.54,148.35L509.32,147.68L510.10,146.99L510.88,146.28L511.66,145.57L512.44,144.84L513.22,144.09L514.00,143.34L514.78,142.57L515.56,141.79L516.34,141.00L517.12,140.19L517.90,139.37L518.68,138.55L519.46,137.71L520.24,136.86L521.02,136.00L521.80,135.12L522.58,134.24L523.36,133.35L524.14,132.45L524.92,131.54L525.70,130.63L526.48,129.70L527.26,128.77L528.04,127.83L528.82,126.88L529.60,125.93L530.38,124.98L531.16,124.02L531.94,123.05L532.72,122.08L533.50,121.11L534.28,120.14L535.06,119.16L535.84,118.18L536.62,117.21L537.40,116.23L538.18,115.25L538.96,114.28L539.74,113.31L540.52,112.33L541.30,111.37L542.08,110.40L542.86,109.44L543.64,108.49L544.42,107.54L545.20,106.59L545.98,105.66L546.76,104.73L547.54,103.80L548.32,102.89L549.10,101.98L549.88,101.09L550.66,100.20L551.44,99.32L552.22,98.45L553.00,97.59L553.78,96.74L554.56,95.91L555.34,95.08L556.12,94.27L556.90,93.47L557.68,92.68L558.46,91.90L559.24,91.13L560.02,90.38L560.80,89.64L561.58,88.92L562.36,88.20L563.14,87.50L563.92,86.82L564.70,86.14L565.48,85.48L566.26,84.83L567.04,84.20L567.82,83.58L568.60,82.97L569.38,82.38L570.16,81.80L570.94,81.23L571.72,80.67L572.50,80.13L573.28,79.60L574.06,79.08L574.84,78.58L575.62,78.09L576.40,77.61L577.18,77.14L577.96,76.68L578.74,76.24L579.52,75.80L580.30,75.38L581.08,74.97L581.86,74.57L582.64,74.18L583.42,73.80L584.20,73.44L584.98,73.08L585.76,72.73L586.54,72.39L587.32,72.06L588.10,71.74L588.88,71.43L589.66,71.13L590.44,70.84L591.22,70.56L592.00,70.28" stroke="#000" stroke-width="1.1" fill="none"/>
<line x1="436.50" y1="159.50" x2="436.50" y2="172.24" stroke="#000" stroke-width="1.0"/>
<line x1="433.40" y1="159.50" x2="439.60" y2="159.50" stroke="#000" stroke-width="1.0"/>
<rect x="433.00" y="163.04" width="6.0" height="6.0" fill="#000"/>
<line x1="488.50" y1="161.50" x2="488.50" y2="175.00" stroke="#000" stroke-width="1.0"/>
<line x1="485.40" y1="161.50" x2="491.60" y2="161.50" stroke="#000" stroke-width="1.0"/>
<rect x="485.00" y="165.52" width="6.0" height="6.0" fill="#000"/>
<line x1="540.50" y1="95.50" x2="540.50" y2="130.35" stroke="#000" stroke-width="1.0"/>
<line x1="537.40" y1="95.50" x2="543.60" y2="95.50" stroke="#000" stroke-width="1.0"/>
<line x1="537.40" y1="130.50" x2="543.60" y2="130.50" stroke="#000" stroke-width="1.0"/>
<rect x="537.00" y="109.71" width="6.0" height="6.0" fill="#000"/>
<line x1="592.50" y1="53.50" x2="592.50" y2="85.43" stroke="#000" stroke-width="1.0"/>
<line x1="589.40" y1="53.50" x2="595.60" y2="53.50" stroke="#000" stroke-width="1.0"/>
<line x1="589.40" y1="85.50" x2="595.60" y2="85.50" stroke="#000" stroke-width="1.0"/>
<rect x="589.00" y="66.58" width="6.0" height="6.0" fill="#000"/>
<line x1="606.80" y1="53.50" x2="621.70" y2="53.50" stroke="#000" stroke-width="1.0"/>
<circle cx="614.00" cy="53.30" r="3.20" fill="#000" stroke="none" stroke-width="1.0"/>
<line x1="606.80" y1="71.50" x2="621.70" y2="71.50" stroke="#000" stroke-width="1.0"/>
<rect x="611" y="68.3" width="6" height="6" fill="#000"/>
<text x="630.30" y="56.30" font-size="9.6" font-weight="normal" text-anchor="start" fill="#000" stroke="#000" stroke-width="0.1">Cognate</text>
<text x="630.30" y="74.40" font-size="9.6" font-weight="normal" text-anchor="start" fill="#000" stroke="#000" stroke-width="0.1">Y79F</text>
<text x="23.00" y="229.10" font-size="16.5" font-weight="bold" text-anchor="start" fill="#000" stroke="#000" stroke-width="0.25">c</text>
<text x="354.20" y="234.00" font-size="12" font-weight="bold" text-anchor="middle" fill="#000" stroke="#000" stroke-width="0.25">whole blood</text>
<line x1="61.90" y1="250.30" x2="61.90" y2="392.90" stroke="#000" stroke-width="1.7"/>
<line x1="58.00" y1="392.10" x2="61.90" y2="392.10" stroke="#000" stroke-width="1.7"/>
<text x="56.20" y="396.20" font-size="10.3" font-weight="bold" text-anchor="end" fill="#000" stroke="#000" stroke-width="0.25">0</text>
<line x1="58.00" y1="356.80" x2="61.90" y2="356.80" stroke="#000" stroke-width="1.7"/>
<text x="56.20" y="360.90" font-size="10.3" font-weight="bold" text-anchor="end" fill="#000" stroke="#000" stroke-width="0.25">10</text>
<line x1="58.00" y1="321.50" x2="61.90" y2="321.50" stroke="#000" stroke-width="1.7"/>
<text x="56.20" y="325.60" font-size="10.3" font-weight="bold" text-anchor="end" fill="#000" stroke="#000" stroke-width="0.25">20</text>
<line x1="58.00" y1="286.20" x2="61.90" y2="286.20" stroke="#000" stroke-width="1.7"/>
<text x="56.20" y="290.30" font-size="10.3" font-weight="bold" text-anchor="end" fill="#000" stroke="#000" stroke-width="0.25">30</text>
<line x1="58.00" y1="250.90" x2="61.90" y2="250.90" stroke="#000" stroke-width="1.7"/>
<text x="56.20" y="255.00" font-size="10.3" font-weight="bold" text-anchor="end" fill="#000" stroke="#000" stroke-width="0.25">40</text>
<line x1="61.90" y1="392.10" x2="311.00" y2="392.10" stroke="#000" stroke-width="1.7"/>
<line x1="84.50" y1="392.10" x2="84.50" y2="396.30" stroke="#000" stroke-width="1.2"/>
<line x1="118.40" y1="392.10" x2="118.40" y2="396.30" stroke="#000" stroke-width="1.2"/>
<line x1="152.30" y1="392.10" x2="152.30" y2="396.30" stroke="#000" stroke-width="1.2"/>
<line x1="186.20" y1="392.10" x2="186.20" y2="396.30" stroke="#000" stroke-width="1.2"/>
<line x1="220.10" y1="392.10" x2="220.10" y2="396.30" stroke="#000" stroke-width="1.2"/>
<line x1="254.00" y1="392.10" x2="254.00" y2="396.30" stroke="#000" stroke-width="1.2"/>
<line x1="287.90" y1="392.10" x2="287.90" y2="396.30" stroke="#000" stroke-width="1.2"/>
<text x="33.60" y="321.70" font-size="11.6" font-weight="bold" text-anchor="middle" fill="#000" stroke="#000" stroke-width="0.25" transform="rotate(-90 33.6 321.7)">IL-6 (pg/mL)</text>
<text x="87.50" y="406.10" font-size="10.4" font-weight="bold" text-anchor="end" fill="#000" stroke="#000" stroke-width="0.25" transform="rotate(-45 87.5 406.1)">0</text>
<text x="121.40" y="406.10" font-size="10.4" font-weight="bold" text-anchor="end" fill="#000" stroke="#000" stroke-width="0.25" transform="rotate(-45 121.4 406.1)">0.1</text>
<text x="155.30" y="406.10" font-size="10.4" font-weight="bold" text-anchor="end" fill="#000" stroke="#000" stroke-width="0.25" transform="rotate(-45 155.3 406.1)">1</text>
<text x="189.20" y="406.10" font-size="10.4" font-weight="bold" text-anchor="end" fill="#000" stroke="#000" stroke-width="0.25" transform="rotate(-45 189.2 406.1)">10</text>
<text x="223.10" y="406.10" font-size="10.4" font-weight="bold" text-anchor="end" fill="#000" stroke="#000" stroke-width="0.25" transform="rotate(-45 223.1 406.1)">30 nM</text>
<text x="257.00" y="406.10" font-size="10.4" font-weight="bold" text-anchor="end" fill="#000" stroke="#000" stroke-width="0.25" transform="rotate(-45 257.0 406.1)">pep.</text>
<text x="290.90" y="406.10" font-size="10.4" font-weight="bold" text-anchor="end" fill="#000" stroke="#000" stroke-width="0.25" transform="rotate(-45 290.9 406.1)">anti-CD3</text>
<rect x="73.85" y="386.45" width="21.30" height="5.65" fill="#ffffff" stroke="#000" stroke-width="1.5"/>
<rect x="107.75" y="386.81" width="21.30" height="5.30" fill="#a0a0a4" stroke="#000" stroke-width="1.5"/>
<rect x="141.65" y="387.16" width="21.30" height="4.94" fill="#a0a0a4" stroke="#000" stroke-width="1.5"/>
<rect x="175.55" y="387.16" width="21.30" height="4.94" fill="#a0a0a4" stroke="#000" stroke-width="1.5"/>
<rect x="209.45" y="384.33" width="21.30" height="7.77" fill="#a0a0a4" stroke="#000" stroke-width="1.5"/>
<rect x="243.35" y="353.62" width="21.30" height="38.48" fill="#ff8080" stroke="#000" stroke-width="1.5"/>
<rect x="277.25" y="321.85" width="21.30" height="70.25" fill="#ff8080" stroke="#000" stroke-width="1.5"/>
<line x1="254.00" y1="345.20" x2="254.00" y2="353.62" stroke="#000" stroke-width="1.5"/>
<line x1="249.00" y1="345.20" x2="259.00" y2="345.20" stroke="#000" stroke-width="1.5"/>
<line x1="287.90" y1="278.70" x2="287.90" y2="321.85" stroke="#000" stroke-width="1.5"/>
<line x1="282.90" y1="278.70" x2="292.90" y2="278.70" stroke="#000" stroke-width="1.5"/>
<circle cx="76.10" cy="381.00" r="2.75" fill="#fff" stroke="#000" stroke-width="1.1"/>
<circle cx="80.10" cy="386.10" r="2.75" fill="#fff" stroke="#000" stroke-width="1.1"/>
<circle cx="84.50" cy="383.90" r="2.75" fill="#fff" stroke="#000" stroke-width="1.1"/>
<circle cx="88.90" cy="382.70" r="2.75" fill="#fff" stroke="#000" stroke-width="1.1"/>
<circle cx="93.30" cy="386.10" r="2.75" fill="#fff" stroke="#000" stroke-width="1.1"/>
<circle cx="76.10" cy="391.50" r="2.75" fill="#fff" stroke="#000" stroke-width="1.1"/>
<circle cx="84.50" cy="390.80" r="2.75" fill="#fff" stroke="#000" stroke-width="1.1"/>
<circle cx="88.90" cy="390.30" r="2.75" fill="#fff" stroke="#000" stroke-width="1.1"/>
<circle cx="93.30" cy="391.50" r="2.75" fill="#fff" stroke="#000" stroke-width="1.1"/>
<circle cx="115.40" cy="377.90" r="3.00" fill="#000" stroke="none" stroke-width="1.0"/>
<circle cx="121.40" cy="380.50" r="3.00" fill="#000" stroke="none" stroke-width="1.0"/>
<circle cx="112.40" cy="384.70" r="3.00" fill="#000" stroke="none" stroke-width="1.0"/>
<circle cx="109.40" cy="388.50" r="3.00" fill="#000" stroke="none" stroke-width="1.0"/>
<circle cx="115.40" cy="387.50" r="3.00" fill="#000" stroke="none" stroke-width="1.0"/>
<circle cx="119.40" cy="386.50" r="3.00" fill="#000" stroke="none" stroke-width="1.0"/>
<circle cx="123.40" cy="387.50" r="3.00" fill="#000" stroke="none" stroke-width="1.0"/>
<circle cx="127.40" cy="388.50" r="3.00" fill="#000" stroke="none" stroke-width="1.0"/>
<circle cx="112.40" cy="390.00" r="3.00" fill="#000" stroke="none" stroke-width="1.0"/>
<circle cx="121.40" cy="390.50" r="3.00" fill="#000" stroke="none" stroke-width="1.0"/>
<circle cx="125.40" cy="390.50" r="3.00" fill="#000" stroke="none" stroke-width="1.0"/>
<circle cx="149.30" cy="379.70" r="3.00" fill="#000" stroke="none" stroke-width="1.0"/>
<circle cx="154.80" cy="381.50" r="3.00" fill="#000" stroke="none" stroke-width="1.0"/>
<circle cx="146.30" cy="386.00" r="3.00" fill="#000" stroke="none" stroke-width="1.0"/>
<circle cx="143.30" cy="388.50" r="3.00" fill="#000" stroke="none" stroke-width="1.0"/>
<circle cx="149.30" cy="388.00" r="3.00" fill="#000" stroke="none" stroke-width="1.0"/>
<circle cx="153.30" cy="387.00" r="3.00" fill="#000" stroke="none" stroke-width="1.0"/>
<circle cx="157.30" cy="388.00" r="3.00" fill="#000" stroke="none" stroke-width="1.0"/>
<circle cx="161.30" cy="389.00" r="3.00" fill="#000" stroke="none" stroke-width="1.0"/>
<circle cx="146.30" cy="390.00" r="3.00" fill="#000" stroke="none" stroke-width="1.0"/>
<circle cx="155.30" cy="390.50" r="3.00" fill="#000" stroke="none" stroke-width="1.0"/>
<circle cx="159.30" cy="390.50" r="3.00" fill="#000" stroke="none" stroke-width="1.0"/>
<circle cx="183.20" cy="379.70" r="3.00" fill="#000" stroke="none" stroke-width="1.0"/>
<circle cx="186.20" cy="379.70" r="3.00" fill="#000" stroke="none" stroke-width="1.0"/>
<circle cx="180.20" cy="386.00" r="3.00" fill="#000" stroke="none" stroke-width="1.0"/>
<circle cx="177.20" cy="388.50" r="3.00" fill="#000" stroke="none" stroke-width="1.0"/>
<circle cx="183.20" cy="388.00" r="3.00" fill="#000" stroke="none" stroke-width="1.0"/>
<circle cx="187.20" cy="387.00" r="3.00" fill="#000" stroke="none" stroke-width="1.0"/>
<circle cx="191.20" cy="388.00" r="3.00" fill="#000" stroke="none" stroke-width="1.0"/>
<circle cx="195.20" cy="389.00" r="3.00" fill="#000" stroke="none" stroke-width="1.0"/>
<circle cx="180.20" cy="390.00" r="3.00" fill="#000" stroke="none" stroke-width="1.0"/>
<circle cx="189.20" cy="390.50" r="3.00" fill="#000" stroke="none" stroke-width="1.0"/>
<circle cx="193.20" cy="390.50" r="3.00" fill="#000" stroke="none" stroke-width="1.0"/>
<circle cx="219.80" cy="366.90" r="3.00" fill="#000" stroke="none" stroke-width="1.0"/>
<circle cx="211.30" cy="379.90" r="3.00" fill="#000" stroke="none" stroke-width="1.0"/>
<circle cx="219.70" cy="379.60" r="3.00" fill="#000" stroke="none" stroke-width="1.0"/>
<circle cx="224.00" cy="381.50" r="3.00" fill="#000" stroke="none" stroke-width="1.0"/>
<circle cx="228.10" cy="382.90" r="3.00" fill="#000" stroke="none" stroke-width="1.0"/>
<circle cx="215.70" cy="385.60" r="3.00" fill="#000" stroke="none" stroke-width="1.0"/>
<circle cx="219.60" cy="385.80" r="3.00" fill="#000" stroke="none" stroke-width="1.0"/>
<circle cx="215.20" cy="391.70" r="3.00" fill="#000" stroke="none" stroke-width="1.0"/>
<circle cx="224.00" cy="391.70" r="3.00" fill="#000" stroke="none" stroke-width="1.0"/>
<circle cx="254.00" cy="310.10" r="3.00" fill="#ff0000" stroke="#000" stroke-width="1.1"/>
<circle cx="254.00" cy="320.00" r="3.00" fill="#ff0000" stroke="#000" stroke-width="1.1"/>
<circle cx="254.00" cy="345.50" r="3.00" fill="#ff0000" stroke="#000" stroke-width="1.1"/>
<circle cx="262.50" cy="354.50" r="3.00" fill="#ff0000" stroke="#000" stroke-width="1.1"/>
<circle cx="245.70" cy="359.00" r="3.00" fill="#ff0000" stroke="#000" stroke-width="1.1"/>
<circle cx="245.70" cy="364.70" r="3.00" fill="#ff0000" stroke="#000" stroke-width="1.1"/>
<circle cx="262.50" cy="364.70" r="3.00" fill="#ff0000" stroke="#000" stroke-width="1.1"/>
<circle cx="254.00" cy="377.20" r="3.00" fill="#ff0000" stroke="#000" stroke-width="1.1"/>
<circle cx="254.00" cy="383.10" r="3.00" fill="#ff0000" stroke="#000" stroke-width="1.1"/>
<circle cx="287.90" cy="255.60" r="3.00" fill="#ff0000" stroke="#000" stroke-width="1.1"/>
<circle cx="287.90" cy="264.00" r="3.00" fill="#ff0000" stroke="#000" stroke-width="1.1"/>
<circle cx="287.90" cy="289.80" r="3.00" fill="#ff0000" stroke="#000" stroke-width="1.1"/>
<circle cx="279.40" cy="327.70" r="3.00" fill="#ff0000" stroke="#000" stroke-width="1.1"/>
<circle cx="287.90" cy="331.90" r="3.00" fill="#ff0000" stroke="#000" stroke-width="1.1"/>
<circle cx="296.40" cy="330.00" r="3.00" fill="#ff0000" stroke="#000" stroke-width="1.1"/>
<circle cx="287.90" cy="357.60" r="3.00" fill="#ff0000" stroke="#000" stroke-width="1.1"/>
<circle cx="287.90" cy="365.60" r="3.00" fill="#ff0000" stroke="#000" stroke-width="1.1"/>
<circle cx="287.90" cy="372.90" r="3.00" fill="#ff0000" stroke="#000" stroke-width="1.1"/>
<line x1="82.40" y1="260.30" x2="218.30" y2="260.30" stroke="#000" stroke-width="1.7"/>
<text x="150.35" y="253.70" font-size="11" font-weight="normal" text-anchor="middle" fill="#000" stroke="#000" stroke-width="0.1">ns</text>
<line x1="82.40" y1="292.80" x2="186.40" y2="292.80" stroke="#000" stroke-width="1.7"/>
<text x="134.40" y="286.20" font-size="11" font-weight="normal" text-anchor="middle" fill="#000" stroke="#000" stroke-width="0.1">ns</text>
<line x1="82.40" y1="325.30" x2="153.00" y2="325.30" stroke="#000" stroke-width="1.7"/>
<text x="117.70" y="318.70" font-size="11" font-weight="normal" text-anchor="middle" fill="#000" stroke="#000" stroke-width="0.1">ns</text>
<line x1="84.40" y1="356.10" x2="117.70" y2="356.10" stroke="#000" stroke-width="1.7"/>
<text x="101.05" y="349.50" font-size="11" font-weight="normal" text-anchor="middle" fill="#000" stroke="#000" stroke-width="0.1">ns</text>
<line x1="423.00" y1="255.30" x2="423.00" y2="394.00" stroke="#000" stroke-width="1.7"/>
<line x1="419.60" y1="393.20" x2="423.00" y2="393.20" stroke="#000" stroke-width="1.6"/>
<text x="417.90" y="396.90" font-size="10.2" font-weight="bold" text-anchor="end" fill="#000" stroke="#000" stroke-width="0.25">1</text>
<line x1="420.70" y1="383.58" x2="423.00" y2="383.58" stroke="#000" stroke-width="1.0"/>
<line x1="420.70" y1="377.95" x2="423.00" y2="377.95" stroke="#000" stroke-width="1.0"/>
<line x1="420.70" y1="373.96" x2="423.00" y2="373.96" stroke="#000" stroke-width="1.0"/>
<line x1="420.70" y1="370.86" x2="423.00" y2="370.86" stroke="#000" stroke-width="1.0"/>
<line x1="420.70" y1="368.33" x2="423.00" y2="368.33" stroke="#000" stroke-width="1.0"/>
<line x1="420.70" y1="366.19" x2="423.00" y2="366.19" stroke="#000" stroke-width="1.0"/>
<line x1="420.70" y1="364.34" x2="423.00" y2="364.34" stroke="#000" stroke-width="1.0"/>
<line x1="420.70" y1="362.70" x2="423.00" y2="362.70" stroke="#000" stroke-width="1.0"/>
<line x1="419.60" y1="361.24" x2="423.00" y2="361.24" stroke="#000" stroke-width="1.6"/>
<text x="417.90" y="364.94" font-size="10.2" font-weight="bold" text-anchor="end" fill="#000" stroke="#000" stroke-width="0.25">10</text>
<line x1="420.70" y1="351.62" x2="423.00" y2="351.62" stroke="#000" stroke-width="1.0"/>
<line x1="420.70" y1="345.99" x2="423.00" y2="345.99" stroke="#000" stroke-width="1.0"/>
<line x1="420.70" y1="342.00" x2="423.00" y2="342.00" stroke="#000" stroke-width="1.0"/>
<line x1="420.70" y1="338.90" x2="423.00" y2="338.90" stroke="#000" stroke-width="1.0"/>
<line x1="420.70" y1="336.37" x2="423.00" y2="336.37" stroke="#000" stroke-width="1.0"/>
<line x1="420.70" y1="334.23" x2="423.00" y2="334.23" stroke="#000" stroke-width="1.0"/>
<line x1="420.70" y1="332.38" x2="423.00" y2="332.38" stroke="#000" stroke-width="1.0"/>
<line x1="420.70" y1="330.74" x2="423.00" y2="330.74" stroke="#000" stroke-width="1.0"/>
<line x1="419.60" y1="329.28" x2="423.00" y2="329.28" stroke="#000" stroke-width="1.6"/>
<text x="417.90" y="332.98" font-size="10.2" font-weight="bold" text-anchor="end" fill="#000" stroke="#000" stroke-width="0.25">100</text>
<line x1="420.70" y1="319.66" x2="423.00" y2="319.66" stroke="#000" stroke-width="1.0"/>
<line x1="420.70" y1="314.03" x2="423.00" y2="314.03" stroke="#000" stroke-width="1.0"/>
<line x1="420.70" y1="310.04" x2="423.00" y2="310.04" stroke="#000" stroke-width="1.0"/>
<line x1="420.70" y1="306.94" x2="423.00" y2="306.94" stroke="#000" stroke-width="1.0"/>
<line x1="420.70" y1="304.41" x2="423.00" y2="304.41" stroke="#000" stroke-width="1.0"/>
<line x1="420.70" y1="302.27" x2="423.00" y2="302.27" stroke="#000" stroke-width="1.0"/>
<line x1="420.70" y1="300.42" x2="423.00" y2="300.42" stroke="#000" stroke-width="1.0"/>
<line x1="420.70" y1="298.78" x2="423.00" y2="298.78" stroke="#000" stroke-width="1.0"/>
<line x1="419.60" y1="297.32" x2="423.00" y2="297.32" stroke="#000" stroke-width="1.6"/>
<text x="417.90" y="301.02" font-size="10.2" font-weight="bold" text-anchor="end" fill="#000" stroke="#000" stroke-width="0.25">1000</text>
<line x1="420.70" y1="287.70" x2="423.00" y2="287.70" stroke="#000" stroke-width="1.0"/>
<line x1="420.70" y1="282.07" x2="423.00" y2="282.07" stroke="#000" stroke-width="1.0"/>
<line x1="420.70" y1="278.08" x2="423.00" y2="278.08" stroke="#000" stroke-width="1.0"/>
<line x1="420.70" y1="274.98" x2="423.00" y2="274.98" stroke="#000" stroke-width="1.0"/>
<line x1="420.70" y1="272.45" x2="423.00" y2="272.45" stroke="#000" stroke-width="1.0"/>
<line x1="420.70" y1="270.31" x2="423.00" y2="270.31" stroke="#000" stroke-width="1.0"/>
<line x1="420.70" y1="268.46" x2="423.00" y2="268.46" stroke="#000" stroke-width="1.0"/>
<line x1="420.70" y1="266.82" x2="423.00" y2="266.82" stroke="#000" stroke-width="1.0"/>
<line x1="419.60" y1="265.36" x2="423.00" y2="265.36" stroke="#000" stroke-width="1.6"/>
<text x="417.90" y="269.06" font-size="10.2" font-weight="bold" text-anchor="end" fill="#000" stroke="#000" stroke-width="0.25">10000</text>
<line x1="420.70" y1="255.74" x2="423.00" y2="255.74" stroke="#000" stroke-width="1.0"/>
<line x1="423.00" y1="393.20" x2="666.00" y2="393.20" stroke="#000" stroke-width="1.7"/>
<line x1="445.20" y1="393.20" x2="445.20" y2="397.40" stroke="#000" stroke-width="1.2"/>
<line x1="478.32" y1="393.20" x2="478.32" y2="397.40" stroke="#000" stroke-width="1.2"/>
<line x1="511.44" y1="393.20" x2="511.44" y2="397.40" stroke="#000" stroke-width="1.2"/>
<line x1="544.56" y1="393.20" x2="544.56" y2="397.40" stroke="#000" stroke-width="1.2"/>
<line x1="577.68" y1="393.20" x2="577.68" y2="397.40" stroke="#000" stroke-width="1.2"/>
<line x1="610.80" y1="393.20" x2="610.80" y2="397.40" stroke="#000" stroke-width="1.2"/>
<line x1="643.92" y1="393.20" x2="643.92" y2="397.40" stroke="#000" stroke-width="1.2"/>
<text x="385.00" y="324.20" font-size="11.4" font-weight="bold" text-anchor="middle" fill="#000" stroke="#000" stroke-width="0.25" transform="rotate(-90 385.0 324.2)">IFNγ (pg/ml)</text>
<text x="448.20" y="407.20" font-size="10.4" font-weight="bold" text-anchor="end" fill="#000" stroke="#000" stroke-width="0.25" transform="rotate(-45 448.2 407.2)">0</text>
<text x="481.32" y="407.20" font-size="10.4" font-weight="bold" text-anchor="end" fill="#000" stroke="#000" stroke-width="0.25" transform="rotate(-45 481.32 407.2)">0.1</text>
<text x="514.44" y="407.20" font-size="10.4" font-weight="bold" text-anchor="end" fill="#000" stroke="#000" stroke-width="0.25" transform="rotate(-45 514.44 407.2)">1</text>
<text x="547.56" y="407.20" font-size="10.4" font-weight="bold" text-anchor="end" fill="#000" stroke="#000" stroke-width="0.25" transform="rotate(-45 547.56 407.2)">10</text>
<text x="580.68" y="407.20" font-size="10.4" font-weight="bold" text-anchor="end" fill="#000" stroke="#000" stroke-width="0.25" transform="rotate(-45 580.68 407.2)">30 nM</text>
<text x="613.80" y="407.20" font-size="10.4" font-weight="bold" text-anchor="end" fill="#000" stroke="#000" stroke-width="0.25" transform="rotate(-45 613.8 407.2)">pep.</text>
<text x="646.92" y="407.20" font-size="10.4" font-weight="bold" text-anchor="end" fill="#000" stroke="#000" stroke-width="0.25" transform="rotate(-45 646.92 407.2)">anti-CD3</text>
<rect x="434.55" y="369.50" width="21.30" height="23.70" fill="#ffffff" stroke="#000" stroke-width="1.5"/>
<rect x="467.67" y="368.50" width="21.30" height="24.70" fill="#a0a0a4" stroke="#000" stroke-width="1.5"/>
<rect x="500.79" y="369.30" width="21.30" height="23.90" fill="#a0a0a4" stroke="#000" stroke-width="1.5"/>
<rect x="533.91" y="361.00" width="21.30" height="32.20" fill="#a0a0a4" stroke="#000" stroke-width="1.5"/>
<rect x="567.03" y="350.60" width="21.30" height="42.60" fill="#a0a0a4" stroke="#000" stroke-width="1.5"/>
<rect x="600.15" y="271.50" width="21.30" height="121.70" fill="#ff8080" stroke="#000" stroke-width="1.5"/>
<rect x="633.27" y="294.40" width="21.30" height="98.80" fill="#ff8080" stroke="#000" stroke-width="1.5"/>
<line x1="445.20" y1="363.10" x2="445.20" y2="369.50" stroke="#000" stroke-width="1.5"/>
<line x1="439.70" y1="363.10" x2="450.70" y2="363.10" stroke="#000" stroke-width="1.5"/>
<line x1="478.32" y1="362.60" x2="478.32" y2="368.50" stroke="#000" stroke-width="1.5"/>
<line x1="472.82" y1="362.60" x2="483.82" y2="362.60" stroke="#000" stroke-width="1.5"/>
<line x1="511.44" y1="363.10" x2="511.44" y2="369.30" stroke="#000" stroke-width="1.5"/>
<line x1="505.94" y1="363.10" x2="516.94" y2="363.10" stroke="#000" stroke-width="1.5"/>
<line x1="544.56" y1="356.00" x2="544.56" y2="361.00" stroke="#000" stroke-width="1.5"/>
<line x1="539.06" y1="356.00" x2="550.06" y2="356.00" stroke="#000" stroke-width="1.5"/>
<line x1="577.68" y1="345.50" x2="577.68" y2="350.60" stroke="#000" stroke-width="1.5"/>
<line x1="572.18" y1="345.50" x2="583.18" y2="345.50" stroke="#000" stroke-width="1.5"/>
<line x1="610.80" y1="268.50" x2="610.80" y2="271.50" stroke="#000" stroke-width="1.5"/>
<line x1="605.30" y1="268.50" x2="616.30" y2="268.50" stroke="#000" stroke-width="1.5"/>
<line x1="643.92" y1="283.80" x2="643.92" y2="294.40" stroke="#000" stroke-width="1.5"/>
<line x1="638.42" y1="283.80" x2="649.42" y2="283.80" stroke="#000" stroke-width="1.5"/>
<circle cx="445.20" cy="346.30" r="2.60" fill="#fff" stroke="#000" stroke-width="1.3"/>
<circle cx="445.20" cy="366.60" r="2.60" fill="#fff" stroke="#000" stroke-width="1.3"/>
<circle cx="437.50" cy="373.90" r="2.60" fill="#fff" stroke="#000" stroke-width="1.3"/>
<circle cx="453.40" cy="376.20" r="2.60" fill="#fff" stroke="#000" stroke-width="1.3"/>
<circle cx="437.50" cy="381.20" r="2.60" fill="#fff" stroke="#000" stroke-width="1.3"/>
<circle cx="453.40" cy="381.60" r="2.60" fill="#fff" stroke="#000" stroke-width="1.3"/>
<circle cx="445.20" cy="382.60" r="2.60" fill="#fff" stroke="#000" stroke-width="1.3"/>
<circle cx="445.20" cy="388.90" r="2.60" fill="#fff" stroke="#000" stroke-width="1.3"/>
<circle cx="478.32" cy="346.30" r="3.00" fill="#000" stroke="none" stroke-width="1.0"/>
<circle cx="478.32" cy="365.50" r="3.00" fill="#000" stroke="none" stroke-width="1.0"/>
<circle cx="475.72" cy="371.80" r="3.00" fill="#000" stroke="none" stroke-width="1.0"/>
<circle cx="470.32" cy="376.20" r="3.00" fill="#000" stroke="none" stroke-width="1.0"/>
<circle cx="481.22" cy="377.70" r="3.00" fill="#000" stroke="none" stroke-width="1.0"/>
<circle cx="475.72" cy="380.10" r="3.00" fill="#000" stroke="none" stroke-width="1.0"/>
<circle cx="486.32" cy="379.70" r="3.00" fill="#000" stroke="none" stroke-width="1.0"/>
<circle cx="481.22" cy="383.10" r="3.00" fill="#000" stroke="none" stroke-width="1.0"/>
<circle cx="478.32" cy="391.80" r="3.00" fill="#000" stroke="none" stroke-width="1.0"/>
<circle cx="511.44" cy="346.90" r="3.00" fill="#000" stroke="none" stroke-width="1.0"/>
<circle cx="511.44" cy="366.00" r="3.00" fill="#000" stroke="none" stroke-width="1.0"/>
<circle cx="514.34" cy="373.60" r="3.00" fill="#000" stroke="none" stroke-width="1.0"/>
<circle cx="503.84" cy="376.50" r="3.00" fill="#000" stroke="none" stroke-width="1.0"/>
<circle cx="508.84" cy="378.70" r="3.00" fill="#000" stroke="none" stroke-width="1.0"/>
<circle cx="503.84" cy="383.10" r="3.00" fill="#000" stroke="none" stroke-width="1.0"/>
<circle cx="514.34" cy="383.10" r="3.00" fill="#000" stroke="none" stroke-width="1.0"/>
<circle cx="519.94" cy="382.30" r="3.00" fill="#000" stroke="none" stroke-width="1.0"/>
<circle cx="544.56" cy="345.00" r="3.00" fill="#000" stroke="none" stroke-width="1.0"/>
<circle cx="536.16" cy="356.00" r="3.00" fill="#000" stroke="none" stroke-width="1.0"/>
<circle cx="544.56" cy="356.30" r="3.00" fill="#000" stroke="none" stroke-width="1.0"/>
<circle cx="552.96" cy="356.00" r="3.00" fill="#000" stroke="none" stroke-width="1.0"/>
<circle cx="536.16" cy="370.60" r="3.00" fill="#000" stroke="none" stroke-width="1.0"/>
<circle cx="544.56" cy="369.40" r="3.00" fill="#000" stroke="none" stroke-width="1.0"/>
<circle cx="552.96" cy="374.50" r="3.00" fill="#000" stroke="none" stroke-width="1.0"/>
<circle cx="544.56" cy="379.60" r="3.00" fill="#000" stroke="none" stroke-width="1.0"/>
<circle cx="544.56" cy="385.50" r="3.00" fill="#000" stroke="none" stroke-width="1.0"/>
<circle cx="574.98" cy="337.70" r="3.00" fill="#000" stroke="none" stroke-width="1.0"/>
<circle cx="580.58" cy="338.50" r="3.00" fill="#000" stroke="none" stroke-width="1.0"/>
<circle cx="574.98" cy="345.00" r="3.00" fill="#000" stroke="none" stroke-width="1.0"/>
<circle cx="580.08" cy="348.20" r="3.00" fill="#000" stroke="none" stroke-width="1.0"/>
<circle cx="577.68" cy="359.20" r="3.00" fill="#000" stroke="none" stroke-width="1.0"/>
<circle cx="574.98" cy="365.00" r="3.00" fill="#000" stroke="none" stroke-width="1.0"/>
<circle cx="569.58" cy="370.10" r="3.00" fill="#000" stroke="none" stroke-width="1.0"/>
<circle cx="580.58" cy="368.70" r="3.00" fill="#000" stroke="none" stroke-width="1.0"/>
<circle cx="585.98" cy="367.20" r="3.00" fill="#000" stroke="none" stroke-width="1.0"/>
<circle cx="602.40" cy="263.00" r="2.95" fill="#ff0000" stroke="#000" stroke-width="1.15"/>
<circle cx="610.60" cy="263.80" r="2.95" fill="#ff0000" stroke="#000" stroke-width="1.15"/>
<circle cx="618.80" cy="261.50" r="2.95" fill="#ff0000" stroke="#000" stroke-width="1.15"/>
<circle cx="618.80" cy="269.70" r="2.95" fill="#ff0000" stroke="#000" stroke-width="1.15"/>
<circle cx="602.40" cy="273.30" r="2.95" fill="#ff0000" stroke="#000" stroke-width="1.15"/>
<circle cx="610.60" cy="274.80" r="2.95" fill="#ff0000" stroke="#000" stroke-width="1.15"/>
<circle cx="610.60" cy="281.10" r="2.95" fill="#ff0000" stroke="#000" stroke-width="1.15"/>
<circle cx="610.60" cy="290.10" r="2.95" fill="#ff0000" stroke="#000" stroke-width="1.15"/>
<circle cx="610.60" cy="300.70" r="2.95" fill="#ff0000" stroke="#000" stroke-width="1.15"/>
<circle cx="644.22" cy="277.60" r="2.95" fill="#ff0000" stroke="#000" stroke-width="1.15"/>
<circle cx="635.92" cy="285.60" r="2.95" fill="#ff0000" stroke="#000" stroke-width="1.15"/>
<circle cx="652.42" cy="290.00" r="2.95" fill="#ff0000" stroke="#000" stroke-width="1.15"/>
<circle cx="635.92" cy="296.80" r="2.95" fill="#ff0000" stroke="#000" stroke-width="1.15"/>
<circle cx="644.22" cy="296.20" r="2.95" fill="#ff0000" stroke="#000" stroke-width="1.15"/>
<circle cx="652.42" cy="298.00" r="2.95" fill="#ff0000" stroke="#000" stroke-width="1.15"/>
<circle cx="644.22" cy="308.80" r="2.95" fill="#ff0000" stroke="#000" stroke-width="1.15"/>
<circle cx="644.22" cy="325.60" r="2.95" fill="#ff0000" stroke="#000" stroke-width="1.15"/>
<circle cx="644.22" cy="341.80" r="2.95" fill="#ff0000" stroke="#000" stroke-width="1.15"/>
<line x1="444.80" y1="262.80" x2="579.10" y2="262.80" stroke="#000" stroke-width="1.7"/>
<line x1="511.95" y1="250.20" x2="511.95" y2="256.80" stroke="#000" stroke-width="1.5"/>
<line x1="509.09" y1="251.85" x2="514.81" y2="255.15" stroke="#000" stroke-width="1.5"/>
<line x1="509.09" y1="255.15" x2="514.81" y2="251.85" stroke="#000" stroke-width="1.5"/>
<line x1="444.80" y1="286.70" x2="547.60" y2="286.70" stroke="#000" stroke-width="1.7"/>
<line x1="496.20" y1="274.10" x2="496.20" y2="280.70" stroke="#000" stroke-width="1.5"/>
<line x1="493.34" y1="275.75" x2="499.06" y2="279.05" stroke="#000" stroke-width="1.5"/>
<line x1="493.34" y1="279.05" x2="499.06" y2="275.75" stroke="#000" stroke-width="1.5"/>
<line x1="444.80" y1="310.70" x2="515.10" y2="310.70" stroke="#000" stroke-width="1.7"/>
<text x="479.95" y="304.10" font-size="11" font-weight="normal" text-anchor="middle" fill="#000" stroke="#000" stroke-width="0.1">ns</text>
<line x1="444.80" y1="332.60" x2="477.80" y2="332.60" stroke="#000" stroke-width="1.7"/>
<text x="461.30" y="326.00" font-size="11" font-weight="normal" text-anchor="middle" fill="#000" stroke="#000" stroke-width="0.1">ns</text>
<text x="65.00" y="462.00" font-size="11" font-weight="bold" text-anchor="start" fill="#000" stroke="#000" stroke-width="0.25">iPSC cardiomyocytes</text>
<line x1="59.70" y1="483.70" x2="59.70" y2="610.25" stroke="#000" stroke-width="1.8"/>
<line x1="56.70" y1="609.50" x2="59.70" y2="609.50" stroke="#000" stroke-width="1.5"/>
<text x="54.60" y="612.80" font-size="9.2" font-weight="bold" text-anchor="end" fill="#000" stroke="#000" stroke-width="0.25">1</text>
<line x1="57.70" y1="601.96" x2="59.70" y2="601.96" stroke="#000" stroke-width="1.0"/>
<line x1="57.70" y1="597.54" x2="59.70" y2="597.54" stroke="#000" stroke-width="1.0"/>
<line x1="57.70" y1="594.41" x2="59.70" y2="594.41" stroke="#000" stroke-width="1.0"/>
<line x1="57.70" y1="591.98" x2="59.70" y2="591.98" stroke="#000" stroke-width="1.0"/>
<line x1="57.70" y1="590.00" x2="59.70" y2="590.00" stroke="#000" stroke-width="1.0"/>
<line x1="57.70" y1="588.32" x2="59.70" y2="588.32" stroke="#000" stroke-width="1.0"/>
<line x1="57.70" y1="586.87" x2="59.70" y2="586.87" stroke="#000" stroke-width="1.0"/>
<line x1="57.70" y1="585.59" x2="59.70" y2="585.59" stroke="#000" stroke-width="1.0"/>
<line x1="56.70" y1="584.44" x2="59.70" y2="584.44" stroke="#000" stroke-width="1.5"/>
<text x="54.60" y="587.74" font-size="9.2" font-weight="bold" text-anchor="end" fill="#000" stroke="#000" stroke-width="0.25">10</text>
<line x1="57.70" y1="576.90" x2="59.70" y2="576.90" stroke="#000" stroke-width="1.0"/>
<line x1="57.70" y1="572.48" x2="59.70" y2="572.48" stroke="#000" stroke-width="1.0"/>
<line x1="57.70" y1="569.35" x2="59.70" y2="569.35" stroke="#000" stroke-width="1.0"/>
<line x1="57.70" y1="566.92" x2="59.70" y2="566.92" stroke="#000" stroke-width="1.0"/>
<line x1="57.70" y1="564.94" x2="59.70" y2="564.94" stroke="#000" stroke-width="1.0"/>
<line x1="57.70" y1="563.26" x2="59.70" y2="563.26" stroke="#000" stroke-width="1.0"/>
<line x1="57.70" y1="561.81" x2="59.70" y2="561.81" stroke="#000" stroke-width="1.0"/>
<line x1="57.70" y1="560.53" x2="59.70" y2="560.53" stroke="#000" stroke-width="1.0"/>
<line x1="56.70" y1="559.38" x2="59.70" y2="559.38" stroke="#000" stroke-width="1.5"/>
<text x="54.60" y="562.68" font-size="9.2" font-weight="bold" text-anchor="end" fill="#000" stroke="#000" stroke-width="0.25">100</text>
<line x1="57.70" y1="551.84" x2="59.70" y2="551.84" stroke="#000" stroke-width="1.0"/>
<line x1="57.70" y1="547.42" x2="59.70" y2="547.42" stroke="#000" stroke-width="1.0"/>
<line x1="57.70" y1="544.29" x2="59.70" y2="544.29" stroke="#000" stroke-width="1.0"/>
<line x1="57.70" y1="541.86" x2="59.70" y2="541.86" stroke="#000" stroke-width="1.0"/>
<line x1="57.70" y1="539.88" x2="59.70" y2="539.88" stroke="#000" stroke-width="1.0"/>
<line x1="57.70" y1="538.20" x2="59.70" y2="538.20" stroke="#000" stroke-width="1.0"/>
<line x1="57.70" y1="536.75" x2="59.70" y2="536.75" stroke="#000" stroke-width="1.0"/>
<line x1="57.70" y1="535.47" x2="59.70" y2="535.47" stroke="#000" stroke-width="1.0"/>
<line x1="56.70" y1="534.32" x2="59.70" y2="534.32" stroke="#000" stroke-width="1.5"/>
<text x="54.60" y="537.62" font-size="9.2" font-weight="bold" text-anchor="end" fill="#000" stroke="#000" stroke-width="0.25">1000</text>
<line x1="57.70" y1="526.78" x2="59.70" y2="526.78" stroke="#000" stroke-width="1.0"/>
<line x1="57.70" y1="522.36" x2="59.70" y2="522.36" stroke="#000" stroke-width="1.0"/>
<line x1="57.70" y1="519.23" x2="59.70" y2="519.23" stroke="#000" stroke-width="1.0"/>
<line x1="57.70" y1="516.80" x2="59.70" y2="516.80" stroke="#000" stroke-width="1.0"/>
<line x1="57.70" y1="514.82" x2="59.70" y2="514.82" stroke="#000" stroke-width="1.0"/>
<line x1="57.70" y1="513.14" x2="59.70" y2="513.14" stroke="#000" stroke-width="1.0"/>
<line x1="57.70" y1="511.69" x2="59.70" y2="511.69" stroke="#000" stroke-width="1.0"/>
<line x1="57.70" y1="510.41" x2="59.70" y2="510.41" stroke="#000" stroke-width="1.0"/>
<line x1="56.70" y1="509.26" x2="59.70" y2="509.26" stroke="#000" stroke-width="1.5"/>
<text x="54.60" y="512.56" font-size="9.2" font-weight="bold" text-anchor="end" fill="#000" stroke="#000" stroke-width="0.25">10000</text>
<line x1="57.70" y1="501.72" x2="59.70" y2="501.72" stroke="#000" stroke-width="1.0"/>
<line x1="57.70" y1="497.30" x2="59.70" y2="497.30" stroke="#000" stroke-width="1.0"/>
<line x1="57.70" y1="494.17" x2="59.70" y2="494.17" stroke="#000" stroke-width="1.0"/>
<line x1="57.70" y1="491.74" x2="59.70" y2="491.74" stroke="#000" stroke-width="1.0"/>
<line x1="57.70" y1="489.76" x2="59.70" y2="489.76" stroke="#000" stroke-width="1.0"/>
<line x1="57.70" y1="488.08" x2="59.70" y2="488.08" stroke="#000" stroke-width="1.0"/>
<line x1="57.70" y1="486.63" x2="59.70" y2="486.63" stroke="#000" stroke-width="1.0"/>
<line x1="57.70" y1="485.35" x2="59.70" y2="485.35" stroke="#000" stroke-width="1.0"/>
<line x1="56.70" y1="484.20" x2="59.70" y2="484.20" stroke="#000" stroke-width="1.5"/>
<text x="54.60" y="487.50" font-size="9.2" font-weight="bold" text-anchor="end" fill="#000" stroke="#000" stroke-width="0.25">100000</text>
<line x1="59.70" y1="609.50" x2="208.70" y2="609.50" stroke="#000" stroke-width="1.6"/>
<line x1="79.10" y1="609.50" x2="79.10" y2="613.70" stroke="#000" stroke-width="1.2"/>
<line x1="106.85" y1="609.50" x2="106.85" y2="613.70" stroke="#000" stroke-width="1.2"/>
<line x1="134.60" y1="609.50" x2="134.60" y2="613.70" stroke="#000" stroke-width="1.2"/>
<line x1="162.35" y1="609.50" x2="162.35" y2="613.70" stroke="#000" stroke-width="1.2"/>
<line x1="190.10" y1="609.50" x2="190.10" y2="613.70" stroke="#000" stroke-width="1.2"/>
<text x="82.10" y="622.50" font-size="9.8" font-weight="bold" text-anchor="end" fill="#000" stroke="#000" stroke-width="0.25" transform="rotate(-45 82.1 622.5)">0</text>
<text x="109.85" y="622.50" font-size="9.8" font-weight="bold" text-anchor="end" fill="#000" stroke="#000" stroke-width="0.25" transform="rotate(-45 109.85 622.5)">0.1</text>
<text x="137.60" y="622.50" font-size="9.8" font-weight="bold" text-anchor="end" fill="#000" stroke="#000" stroke-width="0.25" transform="rotate(-45 137.6 622.5)">1</text>
<text x="165.35" y="622.50" font-size="9.8" font-weight="bold" text-anchor="end" fill="#000" stroke="#000" stroke-width="0.25" transform="rotate(-45 165.35 622.5)">10</text>
<text x="193.10" y="622.50" font-size="9.8" font-weight="bold" text-anchor="end" fill="#000" stroke="#000" stroke-width="0.25" transform="rotate(-45 193.1 622.5)">pos.</text>
<rect x="70.60" y="562.40" width="17.00" height="47.10" fill="#ffffff" stroke="#000" stroke-width="1.4"/>
<rect x="98.35" y="562.00" width="17.00" height="47.50" fill="#a0a0a4" stroke="#000" stroke-width="1.4"/>
<rect x="126.10" y="570.90" width="17.00" height="38.60" fill="#a0a0a4" stroke="#000" stroke-width="1.4"/>
<rect x="153.85" y="561.70" width="17.00" height="47.80" fill="#a0a0a4" stroke="#000" stroke-width="1.4"/>
<rect x="181.60" y="486.20" width="17.00" height="123.30" fill="#ff8080" stroke="#000" stroke-width="1.4"/>
<line x1="79.10" y1="558.10" x2="79.10" y2="562.40" stroke="#000" stroke-width="1.4"/>
<line x1="74.60" y1="558.10" x2="83.60" y2="558.10" stroke="#000" stroke-width="1.4"/>
<line x1="106.85" y1="556.20" x2="106.85" y2="562.00" stroke="#000" stroke-width="1.4"/>
<line x1="102.35" y1="556.20" x2="111.35" y2="556.20" stroke="#000" stroke-width="1.4"/>
<line x1="134.60" y1="566.10" x2="134.60" y2="570.90" stroke="#000" stroke-width="1.4"/>
<line x1="130.10" y1="566.10" x2="139.10" y2="566.10" stroke="#000" stroke-width="1.4"/>
<line x1="162.35" y1="558.60" x2="162.35" y2="561.70" stroke="#000" stroke-width="1.4"/>
<line x1="157.85" y1="558.60" x2="166.85" y2="558.60" stroke="#000" stroke-width="1.4"/>
<circle cx="72.50" cy="556.20" r="2.30" fill="#fff" stroke="#000" stroke-width="1.3"/>
<circle cx="86.10" cy="559.00" r="2.30" fill="#fff" stroke="#000" stroke-width="1.3"/>
<circle cx="79.30" cy="590.70" r="2.30" fill="#fff" stroke="#000" stroke-width="1.3"/>
<circle cx="106.95" cy="553.90" r="2.60" fill="#000" stroke="none" stroke-width="1.0"/>
<circle cx="106.95" cy="561.20" r="2.60" fill="#000" stroke="none" stroke-width="1.0"/>
<circle cx="106.85" cy="601.40" r="2.60" fill="#000" stroke="none" stroke-width="1.0"/>
<circle cx="134.10" cy="563.50" r="2.60" fill="#000" stroke="none" stroke-width="1.0"/>
<circle cx="134.10" cy="570.30" r="2.60" fill="#000" stroke="none" stroke-width="1.0"/>
<circle cx="134.10" cy="593.70" r="2.60" fill="#000" stroke="none" stroke-width="1.0"/>
<circle cx="155.45" cy="557.00" r="2.60" fill="#000" stroke="none" stroke-width="1.0"/>
<circle cx="168.85" cy="558.60" r="2.60" fill="#000" stroke="none" stroke-width="1.0"/>
<circle cx="162.05" cy="578.50" r="2.60" fill="#000" stroke="none" stroke-width="1.0"/>
<circle cx="190.10" cy="485.70" r="2.50" fill="#ff0000" stroke="#000" stroke-width="1.1"/>
<line x1="78.20" y1="490.60" x2="162.10" y2="490.60" stroke="#000" stroke-width="1.7"/>
<text x="120.15" y="485.20" font-size="10.2" font-weight="normal" text-anchor="middle" fill="#000" stroke="#000" stroke-width="0.1">ns</text>
<line x1="78.20" y1="517.60" x2="135.90" y2="517.60" stroke="#000" stroke-width="1.7"/>
<text x="107.05" y="512.20" font-size="10.2" font-weight="normal" text-anchor="middle" fill="#000" stroke="#000" stroke-width="0.1">ns</text>
<line x1="78.20" y1="544.00" x2="106.00" y2="544.00" stroke="#000" stroke-width="1.7"/>
<text x="92.10" y="538.60" font-size="10.2" font-weight="normal" text-anchor="middle" fill="#000" stroke="#000" stroke-width="0.1">ns</text>
<text x="8.60" y="546.00" font-size="10.5" font-weight="bold" text-anchor="middle" fill="#000" stroke="#000" stroke-width="0.25" transform="rotate(-90 8.6 546.0)">IFNγ release</text>
<text x="20.00" y="546.00" font-size="10.4" font-weight="bold" text-anchor="middle" fill="#000" stroke="#000" stroke-width="0.25" transform="rotate(-90 20.0 546.0)">(no. spots, +/- SEM)</text>
<text x="321.50" y="462.00" font-size="11" font-weight="bold" text-anchor="start" fill="#000" stroke="#000" stroke-width="0.25">iPSC astrocytes</text>
<line x1="303.70" y1="483.70" x2="303.70" y2="610.25" stroke="#000" stroke-width="1.8"/>
<line x1="300.70" y1="609.50" x2="303.70" y2="609.50" stroke="#000" stroke-width="1.5"/>
<text x="298.60" y="612.80" font-size="9.2" font-weight="bold" text-anchor="end" fill="#000" stroke="#000" stroke-width="0.25">1</text>
<line x1="301.70" y1="601.96" x2="303.70" y2="601.96" stroke="#000" stroke-width="1.0"/>
<line x1="301.70" y1="597.54" x2="303.70" y2="597.54" stroke="#000" stroke-width="1.0"/>
<line x1="301.70" y1="594.41" x2="303.70" y2="594.41" stroke="#000" stroke-width="1.0"/>
<line x1="301.70" y1="591.98" x2="303.70" y2="591.98" stroke="#000" stroke-width="1.0"/>
<line x1="301.70" y1="590.00" x2="303.70" y2="590.00" stroke="#000" stroke-width="1.0"/>
<line x1="301.70" y1="588.32" x2="303.70" y2="588.32" stroke="#000" stroke-width="1.0"/>
<line x1="301.70" y1="586.87" x2="303.70" y2="586.87" stroke="#000" stroke-width="1.0"/>
<line x1="301.70" y1="585.59" x2="303.70" y2="585.59" stroke="#000" stroke-width="1.0"/>
<line x1="300.70" y1="584.44" x2="303.70" y2="584.44" stroke="#000" stroke-width="1.5"/>
<text x="298.60" y="587.74" font-size="9.2" font-weight="bold" text-anchor="end" fill="#000" stroke="#000" stroke-width="0.25">10</text>
<line x1="301.70" y1="576.90" x2="303.70" y2="576.90" stroke="#000" stroke-width="1.0"/>
<line x1="301.70" y1="572.48" x2="303.70" y2="572.48" stroke="#000" stroke-width="1.0"/>
<line x1="301.70" y1="569.35" x2="303.70" y2="569.35" stroke="#000" stroke-width="1.0"/>
<line x1="301.70" y1="566.92" x2="303.70" y2="566.92" stroke="#000" stroke-width="1.0"/>
<line x1="301.70" y1="564.94" x2="303.70" y2="564.94" stroke="#000" stroke-width="1.0"/>
<line x1="301.70" y1="563.26" x2="303.70" y2="563.26" stroke="#000" stroke-width="1.0"/>
<line x1="301.70" y1="561.81" x2="303.70" y2="561.81" stroke="#000" stroke-width="1.0"/>
<line x1="301.70" y1="560.53" x2="303.70" y2="560.53" stroke="#000" stroke-width="1.0"/>
<line x1="300.70" y1="559.38" x2="303.70" y2="559.38" stroke="#000" stroke-width="1.5"/>
<text x="298.60" y="562.68" font-size="9.2" font-weight="bold" text-anchor="end" fill="#000" stroke="#000" stroke-width="0.25">100</text>
<line x1="301.70" y1="551.84" x2="303.70" y2="551.84" stroke="#000" stroke-width="1.0"/>
<line x1="301.70" y1="547.42" x2="303.70" y2="547.42" stroke="#000" stroke-width="1.0"/>
<line x1="301.70" y1="544.29" x2="303.70" y2="544.29" stroke="#000" stroke-width="1.0"/>
<line x1="301.70" y1="541.86" x2="303.70" y2="541.86" stroke="#000" stroke-width="1.0"/>
<line x1="301.70" y1="539.88" x2="303.70" y2="539.88" stroke="#000" stroke-width="1.0"/>
<line x1="301.70" y1="538.20" x2="303.70" y2="538.20" stroke="#000" stroke-width="1.0"/>
<line x1="301.70" y1="536.75" x2="303.70" y2="536.75" stroke="#000" stroke-width="1.0"/>
<line x1="301.70" y1="535.47" x2="303.70" y2="535.47" stroke="#000" stroke-width="1.0"/>
<line x1="300.70" y1="534.32" x2="303.70" y2="534.32" stroke="#000" stroke-width="1.5"/>
<text x="298.60" y="537.62" font-size="9.2" font-weight="bold" text-anchor="end" fill="#000" stroke="#000" stroke-width="0.25">1000</text>
<line x1="301.70" y1="526.78" x2="303.70" y2="526.78" stroke="#000" stroke-width="1.0"/>
<line x1="301.70" y1="522.36" x2="303.70" y2="522.36" stroke="#000" stroke-width="1.0"/>
<line x1="301.70" y1="519.23" x2="303.70" y2="519.23" stroke="#000" stroke-width="1.0"/>
<line x1="301.70" y1="516.80" x2="303.70" y2="516.80" stroke="#000" stroke-width="1.0"/>
<line x1="301.70" y1="514.82" x2="303.70" y2="514.82" stroke="#000" stroke-width="1.0"/>
<line x1="301.70" y1="513.14" x2="303.70" y2="513.14" stroke="#000" stroke-width="1.0"/>
<line x1="301.70" y1="511.69" x2="303.70" y2="511.69" stroke="#000" stroke-width="1.0"/>
<line x1="301.70" y1="510.41" x2="303.70" y2="510.41" stroke="#000" stroke-width="1.0"/>
<line x1="300.70" y1="509.26" x2="303.70" y2="509.26" stroke="#000" stroke-width="1.5"/>
<text x="298.60" y="512.56" font-size="9.2" font-weight="bold" text-anchor="end" fill="#000" stroke="#000" stroke-width="0.25">10000</text>
<line x1="301.70" y1="501.72" x2="303.70" y2="501.72" stroke="#000" stroke-width="1.0"/>
<line x1="301.70" y1="497.30" x2="303.70" y2="497.30" stroke="#000" stroke-width="1.0"/>
<line x1="301.70" y1="494.17" x2="303.70" y2="494.17" stroke="#000" stroke-width="1.0"/>
<line x1="301.70" y1="491.74" x2="303.70" y2="491.74" stroke="#000" stroke-width="1.0"/>
<line x1="301.70" y1="489.76" x2="303.70" y2="489.76" stroke="#000" stroke-width="1.0"/>
<line x1="301.70" y1="488.08" x2="303.70" y2="488.08" stroke="#000" stroke-width="1.0"/>
<line x1="301.70" y1="486.63" x2="303.70" y2="486.63" stroke="#000" stroke-width="1.0"/>
<line x1="301.70" y1="485.35" x2="303.70" y2="485.35" stroke="#000" stroke-width="1.0"/>
<line x1="300.70" y1="484.20" x2="303.70" y2="484.20" stroke="#000" stroke-width="1.5"/>
<text x="298.60" y="487.50" font-size="9.2" font-weight="bold" text-anchor="end" fill="#000" stroke="#000" stroke-width="0.25">100000</text>
<line x1="303.70" y1="609.50" x2="452.70" y2="609.50" stroke="#000" stroke-width="1.6"/>
<line x1="324.10" y1="609.50" x2="324.10" y2="613.70" stroke="#000" stroke-width="1.2"/>
<line x1="351.85" y1="609.50" x2="351.85" y2="613.70" stroke="#000" stroke-width="1.2"/>
<line x1="379.60" y1="609.50" x2="379.60" y2="613.70" stroke="#000" stroke-width="1.2"/>
<line x1="407.35" y1="609.50" x2="407.35" y2="613.70" stroke="#000" stroke-width="1.2"/>
<line x1="435.10" y1="609.50" x2="435.10" y2="613.70" stroke="#000" stroke-width="1.2"/>
<text x="327.10" y="622.50" font-size="9.8" font-weight="bold" text-anchor="end" fill="#000" stroke="#000" stroke-width="0.25" transform="rotate(-45 327.1 622.5)">0</text>
<text x="354.85" y="622.50" font-size="9.8" font-weight="bold" text-anchor="end" fill="#000" stroke="#000" stroke-width="0.25" transform="rotate(-45 354.85 622.5)">0.1</text>
<text x="382.60" y="622.50" font-size="9.8" font-weight="bold" text-anchor="end" fill="#000" stroke="#000" stroke-width="0.25" transform="rotate(-45 382.6 622.5)">1</text>
<text x="410.35" y="622.50" font-size="9.8" font-weight="bold" text-anchor="end" fill="#000" stroke="#000" stroke-width="0.25" transform="rotate(-45 410.35 622.5)">10</text>
<text x="438.10" y="622.50" font-size="9.8" font-weight="bold" text-anchor="end" fill="#000" stroke="#000" stroke-width="0.25" transform="rotate(-45 438.1 622.5)">pos.</text>
<rect x="315.60" y="562.40" width="17.00" height="47.10" fill="#ffffff" stroke="#000" stroke-width="1.4"/>
<rect x="343.35" y="562.00" width="17.00" height="47.50" fill="#a0a0a4" stroke="#000" stroke-width="1.4"/>
<rect x="371.10" y="570.90" width="17.00" height="38.60" fill="#a0a0a4" stroke="#000" stroke-width="1.4"/>
<rect x="398.85" y="561.70" width="17.00" height="47.80" fill="#a0a0a4" stroke="#000" stroke-width="1.4"/>
<rect x="426.60" y="486.20" width="17.00" height="123.30" fill="#ff8080" stroke="#000" stroke-width="1.4"/>
<line x1="324.10" y1="558.10" x2="324.10" y2="562.40" stroke="#000" stroke-width="1.4"/>
<line x1="319.60" y1="558.10" x2="328.60" y2="558.10" stroke="#000" stroke-width="1.4"/>
<line x1="351.85" y1="556.20" x2="351.85" y2="562.00" stroke="#000" stroke-width="1.4"/>
<line x1="347.35" y1="556.20" x2="356.35" y2="556.20" stroke="#000" stroke-width="1.4"/>
<line x1="379.60" y1="566.10" x2="379.60" y2="570.90" stroke="#000" stroke-width="1.4"/>
<line x1="375.10" y1="566.10" x2="384.10" y2="566.10" stroke="#000" stroke-width="1.4"/>
<line x1="407.35" y1="558.60" x2="407.35" y2="561.70" stroke="#000" stroke-width="1.4"/>
<line x1="402.85" y1="558.60" x2="411.85" y2="558.60" stroke="#000" stroke-width="1.4"/>
<circle cx="317.50" cy="556.20" r="2.30" fill="#fff" stroke="#000" stroke-width="1.3"/>
<circle cx="331.10" cy="559.00" r="2.30" fill="#fff" stroke="#000" stroke-width="1.3"/>
<circle cx="324.30" cy="590.70" r="2.30" fill="#fff" stroke="#000" stroke-width="1.3"/>
<circle cx="351.95" cy="553.90" r="2.60" fill="#000" stroke="none" stroke-width="1.0"/>
<circle cx="351.95" cy="561.20" r="2.60" fill="#000" stroke="none" stroke-width="1.0"/>
<circle cx="351.85" cy="601.40" r="2.60" fill="#000" stroke="none" stroke-width="1.0"/>
<circle cx="379.10" cy="563.50" r="2.60" fill="#000" stroke="none" stroke-width="1.0"/>
<circle cx="379.10" cy="570.30" r="2.60" fill="#000" stroke="none" stroke-width="1.0"/>
<circle cx="379.10" cy="593.70" r="2.60" fill="#000" stroke="none" stroke-width="1.0"/>
<circle cx="400.45" cy="557.00" r="2.60" fill="#000" stroke="none" stroke-width="1.0"/>
<circle cx="413.85" cy="558.60" r="2.60" fill="#000" stroke="none" stroke-width="1.0"/>
<circle cx="407.05" cy="578.50" r="2.60" fill="#000" stroke="none" stroke-width="1.0"/>
<circle cx="435.10" cy="485.70" r="2.50" fill="#ff0000" stroke="#000" stroke-width="1.1"/>
<line x1="323.20" y1="490.60" x2="407.10" y2="490.60" stroke="#000" stroke-width="1.7"/>
<text x="365.15" y="485.20" font-size="10.2" font-weight="normal" text-anchor="middle" fill="#000" stroke="#000" stroke-width="0.1">ns</text>
<line x1="323.20" y1="517.60" x2="380.90" y2="517.60" stroke="#000" stroke-width="1.7"/>
<text x="352.05" y="512.20" font-size="10.2" font-weight="normal" text-anchor="middle" fill="#000" stroke="#000" stroke-width="0.1">ns</text>
<line x1="323.20" y1="544.00" x2="351.00" y2="544.00" stroke="#000" stroke-width="1.7"/>
<text x="337.10" y="538.60" font-size="10.2" font-weight="normal" text-anchor="middle" fill="#000" stroke="#000" stroke-width="0.1">ns</text>
<text x="252.60" y="546.00" font-size="10.5" font-weight="bold" text-anchor="middle" fill="#000" stroke="#000" stroke-width="0.25" transform="rotate(-90 252.6 546.0)">IFNγ release</text>
<text x="264.00" y="546.00" font-size="10.4" font-weight="bold" text-anchor="middle" fill="#000" stroke="#000" stroke-width="0.25" transform="rotate(-90 264.0 546.0)">(no. spots, +/- SEM)</text>
<text x="555.00" y="462.00" font-size="11" font-weight="bold" text-anchor="start" fill="#000" stroke="#000" stroke-width="0.25">lung epithelial</text>
<line x1="535.40" y1="483.71" x2="535.40" y2="610.45" stroke="#000" stroke-width="1.8"/>
<line x1="532.40" y1="609.70" x2="535.40" y2="609.70" stroke="#000" stroke-width="1.5"/>
<text x="530.30" y="613.00" font-size="9.2" font-weight="bold" text-anchor="end" fill="#000" stroke="#000" stroke-width="0.25">1</text>
<line x1="533.40" y1="597.11" x2="535.40" y2="597.11" stroke="#000" stroke-width="1.0"/>
<line x1="533.40" y1="589.74" x2="535.40" y2="589.74" stroke="#000" stroke-width="1.0"/>
<line x1="533.40" y1="584.52" x2="535.40" y2="584.52" stroke="#000" stroke-width="1.0"/>
<line x1="533.40" y1="580.46" x2="535.40" y2="580.46" stroke="#000" stroke-width="1.0"/>
<line x1="533.40" y1="577.15" x2="535.40" y2="577.15" stroke="#000" stroke-width="1.0"/>
<line x1="533.40" y1="574.35" x2="535.40" y2="574.35" stroke="#000" stroke-width="1.0"/>
<line x1="533.40" y1="571.92" x2="535.40" y2="571.92" stroke="#000" stroke-width="1.0"/>
<line x1="533.40" y1="569.78" x2="535.40" y2="569.78" stroke="#000" stroke-width="1.0"/>
<line x1="532.40" y1="567.87" x2="535.40" y2="567.87" stroke="#000" stroke-width="1.5"/>
<text x="530.30" y="571.17" font-size="9.2" font-weight="bold" text-anchor="end" fill="#000" stroke="#000" stroke-width="0.25">10</text>
<line x1="533.40" y1="555.28" x2="535.40" y2="555.28" stroke="#000" stroke-width="1.0"/>
<line x1="533.40" y1="547.91" x2="535.40" y2="547.91" stroke="#000" stroke-width="1.0"/>
<line x1="533.40" y1="542.69" x2="535.40" y2="542.69" stroke="#000" stroke-width="1.0"/>
<line x1="533.40" y1="538.63" x2="535.40" y2="538.63" stroke="#000" stroke-width="1.0"/>
<line x1="533.40" y1="535.32" x2="535.40" y2="535.32" stroke="#000" stroke-width="1.0"/>
<line x1="533.40" y1="532.52" x2="535.40" y2="532.52" stroke="#000" stroke-width="1.0"/>
<line x1="533.40" y1="530.09" x2="535.40" y2="530.09" stroke="#000" stroke-width="1.0"/>
<line x1="533.40" y1="527.95" x2="535.40" y2="527.95" stroke="#000" stroke-width="1.0"/>
<line x1="532.40" y1="526.04" x2="535.40" y2="526.04" stroke="#000" stroke-width="1.5"/>
<text x="530.30" y="529.34" font-size="9.2" font-weight="bold" text-anchor="end" fill="#000" stroke="#000" stroke-width="0.25">100</text>
<line x1="533.40" y1="513.45" x2="535.40" y2="513.45" stroke="#000" stroke-width="1.0"/>
<line x1="533.40" y1="506.08" x2="535.40" y2="506.08" stroke="#000" stroke-width="1.0"/>
<line x1="533.40" y1="500.86" x2="535.40" y2="500.86" stroke="#000" stroke-width="1.0"/>
<line x1="533.40" y1="496.80" x2="535.40" y2="496.80" stroke="#000" stroke-width="1.0"/>
<line x1="533.40" y1="493.49" x2="535.40" y2="493.49" stroke="#000" stroke-width="1.0"/>
<line x1="533.40" y1="490.69" x2="535.40" y2="490.69" stroke="#000" stroke-width="1.0"/>
<line x1="533.40" y1="488.26" x2="535.40" y2="488.26" stroke="#000" stroke-width="1.0"/>
<line x1="533.40" y1="486.12" x2="535.40" y2="486.12" stroke="#000" stroke-width="1.0"/>
<line x1="532.40" y1="484.21" x2="535.40" y2="484.21" stroke="#000" stroke-width="1.5"/>
<text x="530.30" y="487.51" font-size="9.2" font-weight="bold" text-anchor="end" fill="#000" stroke="#000" stroke-width="0.25">1000</text>
<line x1="535.40" y1="609.70" x2="685.00" y2="609.70" stroke="#000" stroke-width="1.6"/>
<line x1="554.40" y1="609.70" x2="554.40" y2="613.90" stroke="#000" stroke-width="1.2"/>
<line x1="582.25" y1="609.70" x2="582.25" y2="613.90" stroke="#000" stroke-width="1.2"/>
<line x1="610.10" y1="609.70" x2="610.10" y2="613.90" stroke="#000" stroke-width="1.2"/>
<line x1="637.95" y1="609.70" x2="637.95" y2="613.90" stroke="#000" stroke-width="1.2"/>
<line x1="665.80" y1="609.70" x2="665.80" y2="613.90" stroke="#000" stroke-width="1.2"/>
<text x="557.40" y="622.70" font-size="9.8" font-weight="bold" text-anchor="end" fill="#000" stroke="#000" stroke-width="0.25" transform="rotate(-45 557.4 622.7)">0</text>
<text x="585.25" y="622.70" font-size="9.8" font-weight="bold" text-anchor="end" fill="#000" stroke="#000" stroke-width="0.25" transform="rotate(-45 585.25 622.7)">0.1</text>
<text x="613.10" y="622.70" font-size="9.8" font-weight="bold" text-anchor="end" fill="#000" stroke="#000" stroke-width="0.25" transform="rotate(-45 613.1 622.7)">1</text>
<text x="640.95" y="622.70" font-size="9.8" font-weight="bold" text-anchor="end" fill="#000" stroke="#000" stroke-width="0.25" transform="rotate(-45 640.95 622.7)">10</text>
<text x="668.80" y="622.70" font-size="9.8" font-weight="bold" text-anchor="end" fill="#000" stroke="#000" stroke-width="0.25" transform="rotate(-45 668.8 622.7)">pos.</text>
<rect x="545.90" y="578.90" width="17.00" height="30.80" fill="#ffffff" stroke="#000" stroke-width="1.4"/>
<rect x="573.75" y="578.90" width="17.00" height="30.80" fill="#a0a0a4" stroke="#000" stroke-width="1.4"/>
<rect x="601.60" y="582.10" width="17.00" height="27.60" fill="#a0a0a4" stroke="#000" stroke-width="1.4"/>
<rect x="629.45" y="585.30" width="17.00" height="24.40" fill="#a0a0a4" stroke="#000" stroke-width="1.4"/>
<rect x="657.30" y="510.20" width="17.00" height="99.50" fill="#ff8080" stroke="#000" stroke-width="1.4"/>
<line x1="554.40" y1="562.00" x2="554.40" y2="578.90" stroke="#000" stroke-width="1.4"/>
<line x1="549.90" y1="562.00" x2="558.90" y2="562.00" stroke="#000" stroke-width="1.4"/>
<line x1="582.25" y1="563.80" x2="582.25" y2="578.90" stroke="#000" stroke-width="1.4"/>
<line x1="577.75" y1="563.80" x2="586.75" y2="563.80" stroke="#000" stroke-width="1.4"/>
<line x1="610.10" y1="564.90" x2="610.10" y2="582.10" stroke="#000" stroke-width="1.4"/>
<line x1="605.60" y1="564.90" x2="614.60" y2="564.90" stroke="#000" stroke-width="1.4"/>
<line x1="637.95" y1="569.60" x2="637.95" y2="585.30" stroke="#000" stroke-width="1.4"/>
<line x1="633.45" y1="569.60" x2="642.45" y2="569.60" stroke="#000" stroke-width="1.4"/>
<line x1="665.80" y1="500.60" x2="665.80" y2="510.20" stroke="#000" stroke-width="1.4"/>
<line x1="661.30" y1="500.60" x2="670.30" y2="500.60" stroke="#000" stroke-width="1.4"/>
<circle cx="554.40" cy="551.30" r="2.30" fill="#fff" stroke="#000" stroke-width="1.3"/>
<circle cx="554.40" cy="562.00" r="2.30" fill="#fff" stroke="#000" stroke-width="1.3"/>
<circle cx="554.40" cy="578.90" r="2.30" fill="#fff" stroke="#000" stroke-width="1.3"/>
<circle cx="554.40" cy="594.30" r="2.30" fill="#fff" stroke="#000" stroke-width="1.3"/>
<circle cx="554.40" cy="604.50" r="2.30" fill="#fff" stroke="#000" stroke-width="1.3"/>
<circle cx="547.70" cy="609.70" r="2.30" fill="#fff" stroke="#000" stroke-width="1.3"/>
<circle cx="561.20" cy="609.70" r="2.30" fill="#fff" stroke="#000" stroke-width="1.3"/>
<circle cx="575.45" cy="557.00" r="2.60" fill="#000" stroke="none" stroke-width="1.0"/>
<circle cx="589.05" cy="560.40" r="2.60" fill="#000" stroke="none" stroke-width="1.0"/>
<circle cx="582.25" cy="571.70" r="2.60" fill="#000" stroke="none" stroke-width="1.0"/>
<circle cx="575.45" cy="588.70" r="2.60" fill="#000" stroke="none" stroke-width="1.0"/>
<circle cx="589.05" cy="587.50" r="2.60" fill="#000" stroke="none" stroke-width="1.0"/>
<circle cx="582.25" cy="604.50" r="2.60" fill="#000" stroke="none" stroke-width="1.0"/>
<circle cx="582.25" cy="609.70" r="2.60" fill="#000" stroke="none" stroke-width="1.0"/>
<circle cx="610.00" cy="554.00" r="2.60" fill="#000" stroke="none" stroke-width="1.0"/>
<circle cx="606.20" cy="572.40" r="2.60" fill="#000" stroke="none" stroke-width="1.0"/>
<circle cx="613.40" cy="572.40" r="2.60" fill="#000" stroke="none" stroke-width="1.0"/>
<circle cx="603.20" cy="600.00" r="2.60" fill="#000" stroke="none" stroke-width="1.0"/>
<circle cx="610.00" cy="604.50" r="2.60" fill="#000" stroke="none" stroke-width="1.0"/>
<circle cx="616.40" cy="604.50" r="2.60" fill="#000" stroke="none" stroke-width="1.0"/>
<circle cx="610.00" cy="609.70" r="2.60" fill="#000" stroke="none" stroke-width="1.0"/>
<circle cx="637.95" cy="559.70" r="2.60" fill="#000" stroke="none" stroke-width="1.0"/>
<circle cx="644.95" cy="575.10" r="2.60" fill="#000" stroke="none" stroke-width="1.0"/>
<circle cx="631.15" cy="579.60" r="2.60" fill="#000" stroke="none" stroke-width="1.0"/>
<circle cx="637.95" cy="592.00" r="2.60" fill="#000" stroke="none" stroke-width="1.0"/>
<circle cx="631.15" cy="600.00" r="2.60" fill="#000" stroke="none" stroke-width="1.0"/>
<circle cx="644.95" cy="604.50" r="2.60" fill="#000" stroke="none" stroke-width="1.0"/>
<circle cx="637.95" cy="609.70" r="2.60" fill="#000" stroke="none" stroke-width="1.0"/>
<circle cx="665.80" cy="500.10" r="2.50" fill="#ff0000" stroke="#000" stroke-width="1.1"/>
<circle cx="659.00" cy="519.70" r="2.50" fill="#ff0000" stroke="#000" stroke-width="1.1"/>
<circle cx="672.60" cy="515.20" r="2.50" fill="#ff0000" stroke="#000" stroke-width="1.1"/>
<line x1="554.20" y1="495.60" x2="638.00" y2="495.60" stroke="#000" stroke-width="1.7"/>
<text x="596.10" y="490.20" font-size="10.2" font-weight="normal" text-anchor="middle" fill="#000" stroke="#000" stroke-width="0.1">ns</text>
<line x1="554.20" y1="516.60" x2="610.50" y2="516.60" stroke="#000" stroke-width="1.7"/>
<text x="582.35" y="511.20" font-size="10.2" font-weight="normal" text-anchor="middle" fill="#000" stroke="#000" stroke-width="0.1">ns</text>
<line x1="554.20" y1="538.20" x2="581.50" y2="538.20" stroke="#000" stroke-width="1.7"/>
<text x="567.85" y="532.80" font-size="10.2" font-weight="normal" text-anchor="middle" fill="#000" stroke="#000" stroke-width="0.1">ns</text>
<text x="497.50" y="547.00" font-size="10.5" font-weight="bold" text-anchor="middle" fill="#000" stroke="#000" stroke-width="0.25" transform="rotate(-90 497.5 547.0)">IFNγ release</text>
<text x="509.50" y="547.00" font-size="10.4" font-weight="bold" text-anchor="middle" fill="#000" stroke="#000" stroke-width="0.25" transform="rotate(-90 509.5 547.0)">(no. spots, +/- SEM)</text>
</g>
</svg></body></html>
